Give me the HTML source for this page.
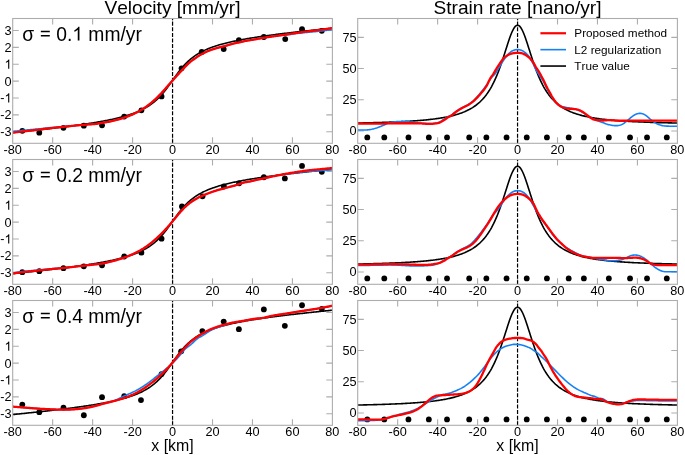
<!DOCTYPE html>
<html><head><meta charset="utf-8"><style>html,body{margin:0;padding:0;background:#fff;width:685px;height:455px;overflow:hidden} svg{will-change:transform} text{font-kerning:none}</style></head>
<body><svg width="685" height="455" viewBox="0 0 685 455" style="display:block"><rect width="685" height="455" fill="#fff"/><defs><clipPath id="cl0"><rect x="12.7" y="18.5" width="319.7" height="124.8"/></clipPath><clipPath id="cr0"><rect x="357.7" y="18.5" width="319.7" height="124.8"/></clipPath><clipPath id="cl1"><rect x="12.7" y="159.5" width="319.7" height="124.8"/></clipPath><clipPath id="cr1"><rect x="357.7" y="159.5" width="319.7" height="124.8"/></clipPath><clipPath id="cl2"><rect x="12.7" y="300.5" width="319.7" height="124.8"/></clipPath><clipPath id="cr2"><rect x="357.7" y="300.5" width="319.7" height="124.8"/></clipPath></defs><text x="172.5" y="14.2" font-size="19.15" text-anchor="middle" font-family='"Liberation Sans", sans-serif'>Velocity [mm/yr]</text><text x="517.5" y="14.2" font-size="19.15" text-anchor="middle" font-family='"Liberation Sans", sans-serif'>Strain rate [nano/yr]</text><path d="M52.67 18.5 v6.1 M52.67 143.3 v-6.1 M92.63 18.5 v6.1 M92.63 143.3 v-6.1 M132.59 18.5 v6.1 M132.59 143.3 v-6.1 M172.55 18.5 v6.1 M172.55 143.3 v-6.1 M212.51 18.5 v6.1 M212.51 143.3 v-6.1 M252.47 18.5 v6.1 M252.47 143.3 v-6.1 M292.43 18.5 v6.1 M292.43 143.3 v-6.1 M12.7 131.71 h6.1 M332.4 131.71 h-6.1 M12.7 114.84 h6.1 M332.4 114.84 h-6.1 M12.7 97.97 h6.1 M332.4 97.97 h-6.1 M12.7 81.10 h6.1 M332.4 81.10 h-6.1 M12.7 64.23 h6.1 M332.4 64.23 h-6.1 M12.7 47.36 h6.1 M332.4 47.36 h-6.1 M12.7 30.49 h6.1 M332.4 30.49 h-6.1" stroke="#adadad" stroke-width="1.1" fill="none"/><text x="12.71" y="153.8" font-size="12.7" text-anchor="middle" font-family='"Liberation Sans", sans-serif'>-80</text><text x="52.67" y="153.8" font-size="12.7" text-anchor="middle" font-family='"Liberation Sans", sans-serif'>-60</text><text x="92.63" y="153.8" font-size="12.7" text-anchor="middle" font-family='"Liberation Sans", sans-serif'>-40</text><text x="132.59" y="153.8" font-size="12.7" text-anchor="middle" font-family='"Liberation Sans", sans-serif'>-20</text><text x="172.55" y="153.8" font-size="12.7" text-anchor="middle" font-family='"Liberation Sans", sans-serif'>0</text><text x="212.51" y="153.8" font-size="12.7" text-anchor="middle" font-family='"Liberation Sans", sans-serif'>20</text><text x="252.47" y="153.8" font-size="12.7" text-anchor="middle" font-family='"Liberation Sans", sans-serif'>40</text><text x="292.43" y="153.8" font-size="12.7" text-anchor="middle" font-family='"Liberation Sans", sans-serif'>60</text><text x="332.39" y="153.8" font-size="12.7" text-anchor="middle" font-family='"Liberation Sans", sans-serif'>80</text><text x="0.31" y="136.19" font-size="12.7" font-family='"Liberation Sans", sans-serif' xml:space="preserve">-3</text><text x="0.31" y="119.32" font-size="12.7" font-family='"Liberation Sans", sans-serif' xml:space="preserve">-2</text><text x="0.31" y="102.45" font-size="12.7" font-family='"Liberation Sans", sans-serif' xml:space="preserve">-</text><path transform="translate(4.54 102.45) scale(0.006201 -0.006201)" d="M763 0H583V1147Q518 1085 412.5 1023Q307 961 223 930V1104Q374 1175 487 1276Q600 1377 647 1472H763Z"/><text x="4.54" y="85.58" font-size="12.7" font-family='"Liberation Sans", sans-serif' xml:space="preserve">0</text><path transform="translate(4.54 68.71) scale(0.006201 -0.006201)" d="M763 0H583V1147Q518 1085 412.5 1023Q307 961 223 930V1104Q374 1175 487 1276Q600 1377 647 1472H763Z"/><text x="4.54" y="51.84" font-size="12.7" font-family='"Liberation Sans", sans-serif' xml:space="preserve">2</text><text x="4.54" y="34.97" font-size="12.7" font-family='"Liberation Sans", sans-serif' xml:space="preserve">3</text><path d="M397.67 18.5 v6.1 M397.67 143.3 v-6.1 M437.63 18.5 v6.1 M437.63 143.3 v-6.1 M477.59 18.5 v6.1 M477.59 143.3 v-6.1 M517.55 18.5 v6.1 M517.55 143.3 v-6.1 M557.51 18.5 v6.1 M557.51 143.3 v-6.1 M597.47 18.5 v6.1 M597.47 143.3 v-6.1 M637.43 18.5 v6.1 M637.43 143.3 v-6.1 M357.7 130.95 h6.1 M677.4 130.95 h-6.1 M357.7 99.76 h6.1 M677.4 99.76 h-6.1 M357.7 68.57 h6.1 M677.4 68.57 h-6.1 M357.7 37.38 h6.1 M677.4 37.38 h-6.1" stroke="#adadad" stroke-width="1.1" fill="none"/><text x="357.71" y="153.8" font-size="12.7" text-anchor="middle" font-family='"Liberation Sans", sans-serif'>-80</text><text x="397.67" y="153.8" font-size="12.7" text-anchor="middle" font-family='"Liberation Sans", sans-serif'>-60</text><text x="437.63" y="153.8" font-size="12.7" text-anchor="middle" font-family='"Liberation Sans", sans-serif'>-40</text><text x="477.59" y="153.8" font-size="12.7" text-anchor="middle" font-family='"Liberation Sans", sans-serif'>-20</text><text x="517.55" y="153.8" font-size="12.7" text-anchor="middle" font-family='"Liberation Sans", sans-serif'>0</text><text x="557.51" y="153.8" font-size="12.7" text-anchor="middle" font-family='"Liberation Sans", sans-serif'>20</text><text x="597.47" y="153.8" font-size="12.7" text-anchor="middle" font-family='"Liberation Sans", sans-serif'>40</text><text x="637.43" y="153.8" font-size="12.7" text-anchor="middle" font-family='"Liberation Sans", sans-serif'>60</text><text x="677.39" y="153.8" font-size="12.7" text-anchor="middle" font-family='"Liberation Sans", sans-serif'>80</text><text x="356.59999999999997" y="135.43" font-size="12.7" text-anchor="end" font-family='"Liberation Sans", sans-serif'>0</text><text x="356.59999999999997" y="104.24" font-size="12.7" text-anchor="end" font-family='"Liberation Sans", sans-serif'>25</text><text x="356.59999999999997" y="73.05" font-size="12.7" text-anchor="end" font-family='"Liberation Sans", sans-serif'>50</text><text x="356.59999999999997" y="41.86" font-size="12.7" text-anchor="end" font-family='"Liberation Sans", sans-serif'>75</text><path d="M172.55 143.3 V18.5 M517.55 143.3 V18.5" stroke="#000" stroke-width="1.2" stroke-dasharray="4 1.6" fill="none"/><circle cx="22.30" cy="130.87" r="2.9" fill="#000" clip-path="url(#cl0)"/><circle cx="39.28" cy="132.72" r="2.9" fill="#000" clip-path="url(#cl0)"/><circle cx="63.46" cy="127.83" r="2.9" fill="#000" clip-path="url(#cl0)"/><circle cx="83.84" cy="125.64" r="2.9" fill="#000" clip-path="url(#cl0)"/><circle cx="102.02" cy="125.30" r="2.9" fill="#000" clip-path="url(#cl0)"/><circle cx="124.20" cy="116.53" r="2.9" fill="#000" clip-path="url(#cl0)"/><circle cx="141.38" cy="110.29" r="2.9" fill="#000" clip-path="url(#cl0)"/><circle cx="161.56" cy="96.45" r="2.9" fill="#000" clip-path="url(#cl0)"/><circle cx="181.54" cy="68.28" r="2.9" fill="#000" clip-path="url(#cl0)"/><circle cx="201.72" cy="51.91" r="2.9" fill="#000" clip-path="url(#cl0)"/><circle cx="223.70" cy="49.05" r="2.9" fill="#000" clip-path="url(#cl0)"/><circle cx="238.88" cy="40.11" r="2.9" fill="#000" clip-path="url(#cl0)"/><circle cx="263.86" cy="36.98" r="2.9" fill="#000" clip-path="url(#cl0)"/><circle cx="285.24" cy="39.09" r="2.9" fill="#000" clip-path="url(#cl0)"/><circle cx="302.02" cy="29.14" r="2.9" fill="#000" clip-path="url(#cl0)"/><circle cx="321.80" cy="30.83" r="2.9" fill="#000" clip-path="url(#cl0)"/><circle cx="367.30" cy="137.39" r="2.9" fill="#000"/><circle cx="384.28" cy="137.39" r="2.9" fill="#000"/><circle cx="408.46" cy="137.39" r="2.9" fill="#000"/><circle cx="428.84" cy="137.39" r="2.9" fill="#000"/><circle cx="447.02" cy="137.39" r="2.9" fill="#000"/><circle cx="469.20" cy="137.39" r="2.9" fill="#000"/><circle cx="486.38" cy="137.39" r="2.9" fill="#000"/><circle cx="506.56" cy="137.39" r="2.9" fill="#000"/><circle cx="526.74" cy="137.39" r="2.9" fill="#000"/><circle cx="546.92" cy="137.39" r="2.9" fill="#000"/><circle cx="568.70" cy="137.39" r="2.9" fill="#000"/><circle cx="583.88" cy="137.39" r="2.9" fill="#000"/><circle cx="608.86" cy="137.39" r="2.9" fill="#000"/><circle cx="630.04" cy="137.39" r="2.9" fill="#000"/><circle cx="647.02" cy="137.39" r="2.9" fill="#000"/><circle cx="666.80" cy="137.39" r="2.9" fill="#000"/><polyline clip-path="url(#cl0)" points="12.71,132.55 13.71,132.45 14.71,132.35 15.71,132.25 16.71,132.15 17.71,132.05 18.70,131.95 19.70,131.85 20.70,131.74 21.70,131.64 22.70,131.54 23.70,131.44 24.70,131.33 25.70,131.23 26.70,131.13 27.70,131.02 28.69,130.92 29.69,130.81 30.69,130.71 31.69,130.60 32.69,130.50 33.69,130.39 34.69,130.28 35.69,130.18 36.69,130.07 37.69,129.96 38.68,129.85 39.68,129.74 40.68,129.63 41.68,129.52 42.68,129.41 43.68,129.30 44.68,129.19 45.68,129.08 46.68,128.97 47.68,128.85 48.67,128.74 49.67,128.63 50.67,128.51 51.67,128.40 52.67,128.28 53.67,128.17 54.67,128.05 55.67,127.93 56.67,127.81 57.67,127.69 58.66,127.57 59.66,127.45 60.66,127.33 61.66,127.21 62.66,127.09 63.66,126.96 64.66,126.84 65.66,126.72 66.66,126.59 67.66,126.46 68.65,126.34 69.65,126.21 70.65,126.08 71.65,125.95 72.65,125.81 73.65,125.68 74.65,125.55 75.65,125.41 76.65,125.28 77.65,125.14 78.64,125.00 79.64,124.86 80.64,124.72 81.64,124.58 82.64,124.44 83.64,124.29 84.64,124.15 85.64,124.00 86.64,123.85 87.64,123.70 88.63,123.54 89.63,123.39 90.63,123.23 91.63,123.08 92.63,122.92 93.63,122.75 94.63,122.59 95.63,122.43 96.63,122.26 97.63,122.09 98.62,121.91 99.62,121.74 100.62,121.56 101.62,121.38 102.62,121.20 103.62,121.01 104.62,120.83 105.62,120.63 106.62,120.44 107.62,120.24 108.61,120.04 109.61,119.84 110.61,119.63 111.61,119.42 112.61,119.20 113.61,118.98 114.61,118.75 115.61,118.52 116.61,118.29 117.61,118.05 118.60,117.81 119.60,117.56 120.60,117.30 121.60,117.04 122.60,116.77 123.60,116.50 124.60,116.22 125.60,115.93 126.60,115.63 127.60,115.33 128.59,115.01 129.59,114.69 130.59,114.36 131.59,114.02 132.59,113.67 133.59,113.30 134.59,112.93 135.59,112.54 136.59,112.14 137.59,111.73 138.58,111.30 139.58,110.86 140.58,110.40 141.58,109.92 142.58,109.42 143.58,108.91 144.58,108.37 145.58,107.81 146.58,107.23 147.58,106.63 148.57,106.00 149.57,105.34 150.57,104.65 151.57,103.94 152.57,103.19 153.57,102.40 154.57,101.59 155.57,100.73 156.57,99.84 157.56,98.91 158.56,97.94 159.56,96.92 160.56,95.87 161.56,94.77 162.56,93.63 163.56,92.45 164.56,91.22 165.56,89.96 166.56,88.67 167.56,87.34 168.55,85.98 169.55,84.60 170.55,83.20 171.55,81.79 172.55,80.37 173.55,78.95 174.55,77.54 175.55,76.14 176.55,74.76 177.55,73.41 178.54,72.08 179.54,70.78 180.54,69.52 181.54,68.30 182.54,67.12 183.54,65.98 184.54,64.88 185.54,63.82 186.54,62.81 187.54,61.84 188.53,60.90 189.53,60.01 190.53,59.16 191.53,58.34 192.53,57.56 193.53,56.81 194.53,56.09 195.53,55.40 196.53,54.75 197.53,54.12 198.52,53.51 199.52,52.93 200.52,52.37 201.52,51.84 202.52,51.32 203.52,50.83 204.52,50.35 205.52,49.89 206.52,49.44 207.52,49.02 208.51,48.60 209.51,48.20 210.51,47.82 211.51,47.44 212.51,47.08 213.51,46.73 214.51,46.39 215.51,46.05 216.51,45.73 217.50,45.42 218.50,45.11 219.50,44.82 220.50,44.53 221.50,44.25 222.50,43.97 223.50,43.70 224.50,43.44 225.50,43.19 226.50,42.94 227.50,42.69 228.49,42.45 229.49,42.22 230.49,41.99 231.49,41.77 232.49,41.55 233.49,41.33 234.49,41.12 235.49,40.91 236.49,40.70 237.49,40.50 238.48,40.30 239.48,40.11 240.48,39.92 241.48,39.73 242.48,39.54 243.48,39.36 244.48,39.18 245.48,39.01 246.48,38.83 247.48,38.66 248.47,38.49 249.47,38.32 250.47,38.15 251.47,37.99 252.47,37.83 253.47,37.67 254.47,37.51 255.47,37.35 256.47,37.20 257.47,37.05 258.46,36.90 259.46,36.75 260.46,36.60 261.46,36.45 262.46,36.31 263.46,36.16 264.46,36.02 265.46,35.88 266.46,35.74 267.46,35.60 268.45,35.47 269.45,35.33 270.45,35.20 271.45,35.06 272.45,34.93 273.45,34.80 274.45,34.67 275.45,34.54 276.45,34.41 277.44,34.28 278.44,34.16 279.44,34.03 280.44,33.90 281.44,33.78 282.44,33.66 283.44,33.53 284.44,33.41 285.44,33.29 286.44,33.17 287.44,33.05 288.43,32.93 289.43,32.81 290.43,32.70 291.43,32.58 292.43,32.46 293.43,32.35 294.43,32.23 295.43,32.12 296.43,32.00 297.43,31.89 298.42,31.78 299.42,31.66 300.42,31.55 301.42,31.44 302.42,31.33 303.42,31.22 304.42,31.11 305.42,31.00 306.42,30.89 307.42,30.78 308.41,30.68 309.41,30.57 310.41,30.46 311.41,30.35 312.41,30.25 313.41,30.14 314.41,30.04 315.41,29.93 316.41,29.83 317.40,29.72 318.40,29.62 319.40,29.51 320.40,29.41 321.40,29.31 322.40,29.21 323.40,29.10 324.40,29.00 325.40,28.90 326.40,28.80 327.39,28.70 328.39,28.60 329.39,28.50 330.39,28.39 331.39,28.29 332.39,28.19" fill="none" stroke="#000" stroke-width="1.6" stroke-linejoin="round"/><polyline clip-path="url(#cl0)" points="12.71,131.37 13.71,131.27 14.71,131.17 15.71,131.07 16.71,130.96 17.71,130.86 18.70,130.76 19.70,130.66 20.70,130.57 21.70,130.47 22.70,130.37 23.70,130.27 24.70,130.18 25.70,130.09 26.70,129.99 27.70,129.90 28.69,129.81 29.69,129.72 30.69,129.63 31.69,129.54 32.69,129.45 33.69,129.36 34.69,129.27 35.69,129.17 36.69,129.08 37.69,128.98 38.68,128.88 39.68,128.78 40.68,128.68 41.68,128.57 42.68,128.47 43.68,128.36 44.68,128.25 45.68,128.15 46.68,128.04 47.68,127.94 48.67,127.84 49.67,127.74 50.67,127.64 51.67,127.54 52.67,127.45 53.67,127.36 54.67,127.27 55.67,127.19 56.67,127.11 57.67,127.03 58.66,126.95 59.66,126.87 60.66,126.79 61.66,126.71 62.66,126.63 63.66,126.55 64.66,126.48 65.66,126.40 66.66,126.32 67.66,126.23 68.65,126.15 69.65,126.07 70.65,125.99 71.65,125.91 72.65,125.83 73.65,125.73 74.65,125.63 75.65,125.53 76.65,125.44 77.65,125.35 78.64,125.25 79.64,125.17 80.64,125.08 81.64,125.00 82.64,124.92 83.64,124.84 84.64,124.76 85.64,124.69 86.64,124.61 87.64,124.54 88.63,124.47 89.63,124.40 90.63,124.33 91.63,124.27 92.63,124.20 93.63,124.12 94.63,124.02 95.63,123.91 96.63,123.76 97.63,123.60 98.62,123.43 99.62,123.25 100.62,123.07 101.62,122.89 102.62,122.72 103.62,122.56 104.62,122.40 105.62,122.25 106.62,122.09 107.62,121.93 108.61,121.76 109.61,121.57 110.61,121.38 111.61,121.17 112.61,120.95 113.61,120.72 114.61,120.48 115.61,120.22 116.61,119.96 117.61,119.69 118.60,119.41 119.60,119.12 120.60,118.82 121.60,118.51 122.60,118.19 123.60,117.87 124.60,117.53 125.60,117.18 126.60,116.82 127.60,116.45 128.59,116.07 129.59,115.68 130.59,115.27 131.59,114.85 132.59,114.41 133.59,113.96 134.59,113.49 135.59,113.00 136.59,112.50 137.59,111.98 138.58,111.44 139.58,110.89 140.58,110.31 141.58,109.72 142.58,109.10 143.58,108.47 144.58,107.81 145.58,107.13 146.58,106.43 147.58,105.70 148.57,104.95 149.57,104.18 150.57,103.39 151.57,102.57 152.57,101.73 153.57,100.86 154.57,99.96 155.57,99.04 156.57,98.10 157.56,97.13 158.56,96.14 159.56,95.11 160.56,94.07 161.56,92.99 162.56,91.89 163.56,90.77 164.56,89.64 165.56,88.50 166.56,87.35 167.56,86.19 168.55,85.04 169.55,83.90 170.55,82.77 171.55,81.64 172.55,80.53 173.55,79.41 174.55,78.29 175.55,77.17 176.55,76.06 177.55,74.96 178.54,73.87 179.54,72.80 180.54,71.73 181.54,70.66 182.54,69.57 183.54,68.47 184.54,67.39 185.54,66.33 186.54,65.32 187.54,64.35 188.53,63.43 189.53,62.55 190.53,61.71 191.53,60.92 192.53,60.18 193.53,59.47 194.53,58.77 195.53,58.07 196.53,57.36 197.53,56.66 198.52,55.98 199.52,55.35 200.52,54.75 201.52,54.21 202.52,53.69 203.52,53.17 204.52,52.66 205.52,52.16 206.52,51.68 207.52,51.23 208.51,50.82 209.51,50.43 210.51,50.07 211.51,49.73 212.51,49.40 213.51,49.09 214.51,48.79 215.51,48.49 216.51,48.20 217.50,47.91 218.50,47.62 219.50,47.34 220.50,47.06 221.50,46.81 222.50,46.57 223.50,46.34 224.50,46.11 225.50,45.85 226.50,45.58 227.50,45.29 228.49,45.00 229.49,44.70 230.49,44.40 231.49,44.11 232.49,43.83 233.49,43.57 234.49,43.33 235.49,43.12 236.49,42.93 237.49,42.73 238.48,42.53 239.48,42.30 240.48,42.07 241.48,41.83 242.48,41.60 243.48,41.36 244.48,41.14 245.48,40.94 246.48,40.75 247.48,40.57 248.47,40.41 249.47,40.27 250.47,40.12 251.47,39.97 252.47,39.81 253.47,39.64 254.47,39.47 255.47,39.28 256.47,39.10 257.47,38.91 258.46,38.73 259.46,38.54 260.46,38.37 261.46,38.20 262.46,38.03 263.46,37.87 264.46,37.70 265.46,37.54 266.46,37.38 267.46,37.22 268.45,37.06 269.45,36.91 270.45,36.76 271.45,36.61 272.45,36.46 273.45,36.34 274.45,36.22 275.45,36.10 276.45,35.98 277.44,35.86 278.44,35.75 279.44,35.63 280.44,35.52 281.44,35.40 282.44,35.29 283.44,35.18 284.44,35.07 285.44,34.97 286.44,34.85 287.44,34.73 288.43,34.60 289.43,34.47 290.43,34.34 291.43,34.21 292.43,34.07 293.43,33.94 294.43,33.81 295.43,33.68 296.43,33.55 297.43,33.43 298.42,33.31 299.42,33.19 300.42,33.08 301.42,32.97 302.42,32.86 303.42,32.76 304.42,32.66 305.42,32.56 306.42,32.46 307.42,32.36 308.41,32.27 309.41,32.17 310.41,32.07 311.41,31.98 312.41,31.88 313.41,31.78 314.41,31.68 315.41,31.58 316.41,31.48 317.40,31.38 318.40,31.28 319.40,31.17 320.40,31.06 321.40,30.95 322.40,30.84 323.40,30.73 324.40,30.61 325.40,30.49 326.40,30.37 327.39,30.25 328.39,30.13 329.39,30.00 330.39,29.88 331.39,29.75 332.39,29.62" fill="none" stroke="#1480f5" stroke-width="1.6" stroke-linejoin="round"/><polyline clip-path="url(#cl0)" points="12.71,132.72 13.71,132.60 14.71,132.47 15.71,132.35 16.71,132.22 17.71,132.10 18.70,131.98 19.70,131.86 20.70,131.73 21.70,131.61 22.70,131.49 23.70,131.38 24.70,131.26 25.70,131.14 26.70,131.03 27.70,130.91 28.69,130.80 29.69,130.69 30.69,130.58 31.69,130.46 32.69,130.35 33.69,130.24 34.69,130.12 35.69,130.00 36.69,129.89 37.69,129.77 38.68,129.64 39.68,129.52 40.68,129.40 41.68,129.27 42.68,129.14 43.68,129.01 44.68,128.88 45.68,128.76 46.68,128.63 47.68,128.50 48.67,128.38 49.67,128.25 50.67,128.13 51.67,128.02 52.67,127.90 53.67,127.79 54.67,127.68 55.67,127.57 56.67,127.47 57.67,127.36 58.66,127.26 59.66,127.16 60.66,127.06 61.66,126.96 62.66,126.86 63.66,126.76 64.66,126.66 65.66,126.55 66.66,126.45 67.66,126.35 68.65,126.24 69.65,126.14 70.65,126.04 71.65,125.93 72.65,125.83 73.65,125.73 74.65,125.63 75.65,125.53 76.65,125.44 77.65,125.35 78.64,125.25 79.64,125.17 80.64,125.08 81.64,125.00 82.64,124.92 83.64,124.84 84.64,124.76 85.64,124.69 86.64,124.61 87.64,124.54 88.63,124.47 89.63,124.40 90.63,124.33 91.63,124.27 92.63,124.20 93.63,124.12 94.63,124.02 95.63,123.91 96.63,123.76 97.63,123.60 98.62,123.43 99.62,123.25 100.62,123.07 101.62,122.89 102.62,122.72 103.62,122.56 104.62,122.40 105.62,122.25 106.62,122.09 107.62,121.93 108.61,121.76 109.61,121.57 110.61,121.38 111.61,121.17 112.61,120.95 113.61,120.72 114.61,120.48 115.61,120.22 116.61,119.96 117.61,119.69 118.60,119.41 119.60,119.12 120.60,118.82 121.60,118.51 122.60,118.19 123.60,117.87 124.60,117.53 125.60,117.18 126.60,116.82 127.60,116.45 128.59,116.07 129.59,115.68 130.59,115.27 131.59,114.85 132.59,114.41 133.59,113.96 134.59,113.49 135.59,113.00 136.59,112.50 137.59,111.98 138.58,111.44 139.58,110.89 140.58,110.31 141.58,109.72 142.58,109.10 143.58,108.47 144.58,107.81 145.58,107.13 146.58,106.43 147.58,105.70 148.57,104.95 149.57,104.18 150.57,103.39 151.57,102.57 152.57,101.73 153.57,100.86 154.57,99.96 155.57,99.04 156.57,98.10 157.56,97.13 158.56,96.14 159.56,95.11 160.56,94.07 161.56,92.99 162.56,91.89 163.56,90.77 164.56,89.64 165.56,88.50 166.56,87.35 167.56,86.19 168.55,85.04 169.55,83.90 170.55,82.77 171.55,81.64 172.55,80.53 173.55,79.41 174.55,78.29 175.55,77.17 176.55,76.06 177.55,74.96 178.54,73.87 179.54,72.80 180.54,71.73 181.54,70.66 182.54,69.57 183.54,68.47 184.54,67.39 185.54,66.33 186.54,65.32 187.54,64.35 188.53,63.43 189.53,62.55 190.53,61.71 191.53,60.92 192.53,60.18 193.53,59.47 194.53,58.77 195.53,58.07 196.53,57.36 197.53,56.66 198.52,55.98 199.52,55.35 200.52,54.75 201.52,54.21 202.52,53.69 203.52,53.17 204.52,52.66 205.52,52.16 206.52,51.68 207.52,51.23 208.51,50.82 209.51,50.43 210.51,50.07 211.51,49.73 212.51,49.40 213.51,49.09 214.51,48.79 215.51,48.49 216.51,48.20 217.50,47.91 218.50,47.62 219.50,47.34 220.50,47.06 221.50,46.81 222.50,46.57 223.50,46.34 224.50,46.11 225.50,45.85 226.50,45.58 227.50,45.29 228.49,45.00 229.49,44.70 230.49,44.40 231.49,44.11 232.49,43.83 233.49,43.57 234.49,43.33 235.49,43.12 236.49,42.93 237.49,42.73 238.48,42.53 239.48,42.30 240.48,42.07 241.48,41.83 242.48,41.60 243.48,41.36 244.48,41.14 245.48,40.94 246.48,40.75 247.48,40.57 248.47,40.41 249.47,40.27 250.47,40.12 251.47,39.97 252.47,39.81 253.47,39.64 254.47,39.47 255.47,39.28 256.47,39.10 257.47,38.91 258.46,38.73 259.46,38.54 260.46,38.37 261.46,38.20 262.46,38.03 263.46,37.87 264.46,37.70 265.46,37.54 266.46,37.38 267.46,37.22 268.45,37.06 269.45,36.91 270.45,36.76 271.45,36.61 272.45,36.46 273.45,36.32 274.45,36.17 275.45,36.03 276.45,35.88 277.44,35.74 278.44,35.59 279.44,35.45 280.44,35.31 281.44,35.17 282.44,35.04 283.44,34.90 284.44,34.77 285.44,34.64 286.44,34.50 287.44,34.35 288.43,34.20 289.43,34.04 290.43,33.89 291.43,33.73 292.43,33.57 293.43,33.41 294.43,33.25 295.43,33.10 296.43,32.94 297.43,32.79 298.42,32.65 299.42,32.51 300.42,32.37 301.42,32.24 302.42,32.11 303.42,31.98 304.42,31.85 305.42,31.72 306.42,31.60 307.42,31.48 308.41,31.36 309.41,31.23 310.41,31.11 311.41,30.99 312.41,30.87 313.41,30.74 314.41,30.62 315.41,30.50 316.41,30.37 317.40,30.24 318.40,30.11 319.40,29.98 320.40,29.85 321.40,29.71 322.40,29.58 323.40,29.44 324.40,29.30 325.40,29.15 326.40,29.01 327.39,28.86 328.39,28.71 329.39,28.56 330.39,28.41 331.39,28.26 332.39,28.10" fill="none" stroke="#ff0000" stroke-width="2.3" stroke-linejoin="round"/><polyline clip-path="url(#cr0)" points="357.71,123.03 358.71,123.01 359.71,122.99 360.71,122.97 361.71,122.95 362.70,122.93 363.70,122.91 364.70,122.88 365.70,122.86 366.70,122.84 367.70,122.82 368.70,122.79 369.70,122.77 370.70,122.74 371.70,122.72 372.69,122.69 373.69,122.66 374.69,122.64 375.69,122.61 376.69,122.58 377.69,122.55 378.69,122.52 379.69,122.49 380.69,122.46 381.69,122.43 382.68,122.40 383.68,122.36 384.68,122.33 385.68,122.30 386.68,122.26 387.68,122.23 388.68,122.19 389.68,122.15 390.68,122.11 391.68,122.07 392.67,122.03 393.67,121.99 394.67,121.95 395.67,121.91 396.67,121.86 397.67,121.82 398.67,121.77 399.67,121.73 400.67,121.68 401.67,121.63 402.66,121.58 403.66,121.52 404.66,121.47 405.66,121.42 406.66,121.36 407.66,121.30 408.66,121.24 409.66,121.18 410.66,121.12 411.66,121.06 412.65,120.99 413.65,120.92 414.65,120.85 415.65,120.78 416.65,120.71 417.65,120.63 418.65,120.55 419.65,120.47 420.65,120.39 421.65,120.30 422.64,120.22 423.64,120.13 424.64,120.03 425.64,119.94 426.64,119.84 427.64,119.74 428.64,119.63 429.64,119.52 430.64,119.41 431.64,119.30 432.63,119.18 433.63,119.05 434.63,118.92 435.63,118.79 436.63,118.66 437.63,118.52 438.63,118.37 439.63,118.22 440.63,118.06 441.63,117.90 442.62,117.73 443.62,117.56 444.62,117.37 445.62,117.19 446.62,116.99 447.62,116.79 448.62,116.58 449.62,116.36 450.62,116.13 451.62,115.89 452.61,115.65 453.61,115.39 454.61,115.12 455.61,114.85 456.61,114.55 457.61,114.25 458.61,113.93 459.61,113.60 460.61,113.26 461.61,112.90 462.60,112.52 463.60,112.12 464.60,111.71 465.60,111.27 466.60,110.82 467.60,110.34 468.60,109.84 469.60,109.31 470.60,108.75 471.60,108.17 472.59,107.56 473.59,106.91 474.59,106.23 475.59,105.52 476.59,104.76 477.59,103.97 478.59,103.12 479.59,102.24 480.59,101.30 481.59,100.30 482.58,99.25 483.58,98.14 484.58,96.96 485.58,95.72 486.58,94.40 487.58,93.00 488.58,91.52 489.58,89.95 490.58,88.29 491.58,86.53 492.57,84.67 493.57,82.71 494.57,80.63 495.57,78.44 496.57,76.13 497.57,73.71 498.57,71.16 499.57,68.50 500.57,65.73 501.57,62.85 502.56,59.88 503.56,56.83 504.56,53.72 505.56,50.58 506.56,47.43 507.56,44.31 508.56,41.26 509.56,38.33 510.56,35.57 511.56,33.03 512.55,30.76 513.55,28.82 514.55,27.26 515.55,26.11 516.55,25.41 517.55,25.17 518.55,25.41 519.55,26.11 520.55,27.26 521.55,28.82 522.54,30.76 523.54,33.03 524.54,35.57 525.54,38.33 526.54,41.26 527.54,44.31 528.54,47.43 529.54,50.58 530.54,53.72 531.54,56.83 532.53,59.88 533.53,62.85 534.53,65.73 535.53,68.50 536.53,71.16 537.53,73.71 538.53,76.13 539.53,78.44 540.53,80.63 541.53,82.71 542.52,84.67 543.52,86.53 544.52,88.29 545.52,89.95 546.52,91.52 547.52,93.00 548.52,94.40 549.52,95.72 550.52,96.96 551.52,98.14 552.51,99.25 553.51,100.30 554.51,101.30 555.51,102.24 556.51,103.12 557.51,103.97 558.51,104.76 559.51,105.52 560.51,106.23 561.51,106.91 562.50,107.56 563.50,108.17 564.50,108.75 565.50,109.31 566.50,109.84 567.50,110.34 568.50,110.82 569.50,111.27 570.50,111.71 571.50,112.12 572.50,112.52 573.49,112.90 574.49,113.26 575.49,113.60 576.49,113.93 577.49,114.25 578.49,114.55 579.49,114.85 580.49,115.12 581.49,115.39 582.48,115.65 583.48,115.89 584.48,116.13 585.48,116.36 586.48,116.58 587.48,116.79 588.48,116.99 589.48,117.19 590.48,117.37 591.48,117.56 592.47,117.73 593.47,117.90 594.47,118.06 595.47,118.22 596.47,118.37 597.47,118.52 598.47,118.66 599.47,118.79 600.47,118.92 601.47,119.05 602.46,119.18 603.46,119.30 604.46,119.41 605.46,119.52 606.46,119.63 607.46,119.74 608.46,119.84 609.46,119.94 610.46,120.03 611.46,120.13 612.45,120.22 613.45,120.30 614.45,120.39 615.45,120.47 616.45,120.55 617.45,120.63 618.45,120.71 619.45,120.78 620.45,120.85 621.45,120.92 622.44,120.99 623.44,121.06 624.44,121.12 625.44,121.18 626.44,121.24 627.44,121.30 628.44,121.36 629.44,121.42 630.44,121.47 631.44,121.52 632.43,121.58 633.43,121.63 634.43,121.68 635.43,121.73 636.43,121.77 637.43,121.82 638.43,121.86 639.43,121.91 640.43,121.95 641.43,121.99 642.42,122.03 643.42,122.07 644.42,122.11 645.42,122.15 646.42,122.19 647.42,122.23 648.42,122.26 649.42,122.30 650.42,122.33 651.42,122.36 652.41,122.40 653.41,122.43 654.41,122.46 655.41,122.49 656.41,122.52 657.41,122.55 658.41,122.58 659.41,122.61 660.41,122.64 661.41,122.66 662.40,122.69 663.40,122.72 664.40,122.74 665.40,122.77 666.40,122.79 667.40,122.82 668.40,122.84 669.40,122.86 670.40,122.88 671.40,122.91 672.39,122.93 673.39,122.95 674.39,122.97 675.39,122.99 676.39,123.01 677.39,123.03" fill="none" stroke="#000" stroke-width="1.6" stroke-linejoin="round"/><polyline clip-path="url(#cr0)" points="357.71,129.91 358.71,129.95 359.71,129.99 360.71,130.02 361.71,130.05 362.70,130.06 363.70,130.06 364.70,130.05 365.70,130.01 366.70,129.96 367.70,129.88 368.70,129.78 369.70,129.65 370.70,129.50 371.70,129.31 372.69,129.09 373.69,128.85 374.69,128.58 375.69,128.28 376.69,127.96 377.69,127.61 378.69,127.23 379.69,126.84 380.69,126.44 381.69,126.02 382.68,125.58 383.68,125.15 384.68,124.71 385.68,124.27 386.68,123.85 387.68,123.46 388.68,123.09 389.68,122.77 390.68,122.50 391.68,122.27 392.67,122.09 393.67,121.95 394.67,121.83 395.67,121.74 396.67,121.66 397.67,121.59 398.67,121.52 399.67,121.47 400.67,121.44 401.67,121.42 402.66,121.42 403.66,121.44 404.66,121.49 405.66,121.55 406.66,121.63 407.66,121.72 408.66,121.82 409.66,121.93 410.66,122.04 411.66,122.16 412.65,122.28 413.65,122.40 414.65,122.53 415.65,122.65 416.65,122.76 417.65,122.88 418.65,122.99 419.65,123.09 420.65,123.18 421.65,123.27 422.64,123.35 423.64,123.42 424.64,123.48 425.64,123.53 426.64,123.57 427.64,123.59 428.64,123.61 429.64,123.61 430.64,123.59 431.64,123.55 432.63,123.48 433.63,123.39 434.63,123.27 435.63,123.12 436.63,122.93 437.63,122.69 438.63,122.38 439.63,121.99 440.63,121.50 441.63,120.89 442.62,120.22 443.62,119.52 444.62,118.82 445.62,118.15 446.62,117.55 447.62,117.03 448.62,116.58 449.62,116.13 450.62,115.61 451.62,114.98 452.61,114.25 453.61,113.47 454.61,112.66 455.61,111.87 456.61,111.12 457.61,110.42 458.61,109.77 459.61,109.16 460.61,108.58 461.61,108.03 462.60,107.49 463.60,106.97 464.60,106.45 465.60,105.93 466.60,105.40 467.60,104.85 468.60,104.26 469.60,103.64 470.60,102.96 471.60,102.21 472.59,101.39 473.59,100.50 474.59,99.54 475.59,98.53 476.59,97.46 477.59,96.35 478.59,95.21 479.59,94.02 480.59,92.81 481.59,91.56 482.58,90.29 483.58,88.98 484.58,87.65 485.58,86.27 486.58,84.85 487.58,83.38 488.58,81.86 489.58,80.34 490.58,78.89 491.58,77.57 492.57,76.44 493.57,75.52 494.57,74.47 495.57,73.20 496.57,71.73 497.57,70.13 498.57,68.44 499.57,66.71 500.57,64.99 501.57,63.32 502.56,61.73 503.56,60.22 504.56,58.79 505.56,57.44 506.56,56.17 507.56,54.98 508.56,53.88 509.56,52.87 510.56,52.01 511.56,51.33 512.55,50.80 513.55,50.37 514.55,50.04 515.55,49.80 516.55,49.65 517.55,49.60 518.55,49.65 519.55,49.79 520.55,50.04 521.55,50.38 522.54,50.82 523.54,51.37 524.54,52.06 525.54,52.87 526.54,53.79 527.54,54.84 528.54,56.06 529.54,57.53 530.54,59.15 531.54,60.86 532.53,62.69 533.53,64.68 534.53,66.85 535.53,69.03 536.53,70.94 537.53,72.60 538.53,74.07 539.53,75.48 540.53,76.96 541.53,78.45 542.52,79.96 543.52,81.63 544.52,83.57 545.52,85.79 546.52,87.95 547.52,89.84 548.52,91.58 549.52,93.27 550.52,95.03 551.52,96.69 552.51,98.03 553.51,99.21 554.51,100.40 555.51,101.71 556.51,102.98 557.51,104.01 558.51,104.81 559.51,105.42 560.51,105.89 561.51,106.25 562.50,106.56 563.50,106.84 564.50,107.08 565.50,107.30 566.50,107.50 567.50,107.68 568.50,107.85 569.50,108.01 570.50,108.18 571.50,108.34 572.50,108.52 573.49,108.72 574.49,108.93 575.49,109.18 576.49,109.47 577.49,109.81 578.49,110.20 579.49,110.65 580.49,111.15 581.49,111.69 582.48,112.28 583.48,112.91 584.48,113.56 585.48,114.22 586.48,114.87 587.48,115.51 588.48,116.10 589.48,116.66 590.48,117.25 591.48,117.88 592.47,118.49 593.47,119.02 594.47,119.42 595.47,119.80 596.47,120.23 597.47,120.69 598.47,121.13 599.47,121.53 600.47,121.86 601.47,122.18 602.46,122.49 603.46,122.84 604.46,123.24 605.46,123.64 606.46,124.03 607.46,124.36 608.46,124.62 609.46,124.84 610.46,125.04 611.46,125.22 612.45,125.38 613.45,125.51 614.45,125.60 615.45,125.65 616.45,125.65 617.45,125.59 618.45,125.47 619.45,125.28 620.45,125.00 621.45,124.64 622.44,124.19 623.44,123.63 624.44,122.97 625.44,122.23 626.44,121.42 627.44,120.58 628.44,119.70 629.44,118.83 630.44,117.96 631.44,117.12 632.43,116.33 633.43,115.60 634.43,114.96 635.43,114.42 636.43,113.99 637.43,113.67 638.43,113.46 639.43,113.37 640.43,113.38 641.43,113.50 642.42,113.75 643.42,114.10 644.42,114.58 645.42,115.18 646.42,115.90 647.42,116.70 648.42,117.57 649.42,118.45 650.42,119.32 651.42,120.15 652.41,120.93 653.41,121.65 654.41,122.31 655.41,122.92 656.41,123.47 657.41,123.96 658.41,124.39 659.41,124.77 660.41,125.10 661.41,125.37 662.40,125.60 663.40,125.78 664.40,125.92 665.40,126.02 666.40,126.09 667.40,126.14 668.40,126.17 669.40,126.19 670.40,126.20 671.40,126.21 672.39,126.21 673.39,126.21 674.39,126.20 675.39,126.19 676.39,126.18 677.39,126.17" fill="none" stroke="#1480f5" stroke-width="1.6" stroke-linejoin="round"/><polyline clip-path="url(#cr0)" points="357.71,123.67 358.71,123.67 359.71,123.67 360.71,123.67 361.71,123.67 362.70,123.67 363.70,123.67 364.70,123.67 365.70,123.67 366.70,123.67 367.70,123.67 368.70,123.67 369.70,123.67 370.70,123.66 371.70,123.66 372.69,123.65 373.69,123.65 374.69,123.64 375.69,123.64 376.69,123.63 377.69,123.62 378.69,123.61 379.69,123.60 380.69,123.58 381.69,123.57 382.68,123.55 383.68,123.53 384.68,123.51 385.68,123.49 386.68,123.47 387.68,123.45 388.68,123.42 389.68,123.40 390.68,123.38 391.68,123.35 392.67,123.33 393.67,123.31 394.67,123.30 395.67,123.28 396.67,123.27 397.67,123.26 398.67,123.25 399.67,123.24 400.67,123.24 401.67,123.24 402.66,123.24 403.66,123.24 404.66,123.24 405.66,123.25 406.66,123.25 407.66,123.25 408.66,123.26 409.66,123.26 410.66,123.26 411.66,123.27 412.65,123.27 413.65,123.28 414.65,123.29 415.65,123.30 416.65,123.31 417.65,123.33 418.65,123.36 419.65,123.39 420.65,123.43 421.65,123.47 422.64,123.53 423.64,123.59 424.64,123.66 425.64,123.74 426.64,123.80 427.64,123.86 428.64,123.90 429.64,123.92 430.64,123.91 431.64,123.87 432.63,123.80 433.63,123.70 434.63,123.58 435.63,123.44 436.63,123.28 437.63,123.10 438.63,122.86 439.63,122.54 440.63,122.10 441.63,121.56 442.62,120.95 443.62,120.32 444.62,119.70 445.62,119.01 446.62,118.25 447.62,117.57 448.62,117.00 449.62,116.48 450.62,115.93 451.62,115.28 452.61,114.56 453.61,113.78 454.61,112.98 455.61,112.20 456.61,111.45 457.61,110.75 458.61,110.09 459.61,109.47 460.61,108.88 461.61,108.33 462.60,107.81 463.60,107.30 464.60,106.81 465.60,106.31 466.60,105.79 467.60,105.26 468.60,104.69 469.60,104.08 470.60,103.41 471.60,102.69 472.59,101.89 473.59,101.04 474.59,100.12 475.59,99.15 476.59,98.14 477.59,97.09 478.59,96.01 479.59,94.90 480.59,93.77 481.59,92.61 482.58,91.43 483.58,90.22 484.58,88.92 485.58,87.47 486.58,85.84 487.58,83.96 488.58,81.85 489.58,79.73 490.58,77.88 491.58,76.43 492.57,75.09 493.57,73.57 494.57,71.87 495.57,70.14 496.57,68.49 497.57,66.93 498.57,65.42 499.57,63.95 500.57,62.49 501.57,61.01 502.56,59.57 503.56,58.26 504.56,57.19 505.56,56.45 506.56,55.90 507.56,55.32 508.56,54.75 509.56,54.23 510.56,53.84 511.56,53.58 512.55,53.36 513.55,53.17 514.55,53.00 515.55,52.88 516.55,52.79 517.55,52.76 518.55,52.78 519.55,52.85 520.55,53.00 521.55,53.22 522.54,53.52 523.54,53.90 524.54,54.37 525.54,54.93 526.54,55.58 527.54,56.31 528.54,57.12 529.54,58.01 530.54,59.00 531.54,60.12 532.53,61.42 533.53,62.91 534.53,64.63 535.53,66.46 536.53,68.19 537.53,69.67 538.53,71.12 539.53,72.76 540.53,74.60 541.53,76.44 542.52,78.25 543.52,80.13 544.52,82.18 545.52,84.45 546.52,86.61 547.52,88.48 548.52,90.21 549.52,91.95 550.52,93.85 551.52,95.77 552.51,97.48 553.51,99.01 554.51,100.43 555.51,101.73 556.51,102.90 557.51,103.93 558.51,104.81 559.51,105.57 560.51,106.22 561.51,106.77 562.50,107.24 563.50,107.63 564.50,107.95 565.50,108.22 566.50,108.42 567.50,108.58 568.50,108.69 569.50,108.77 570.50,108.83 571.50,108.88 572.50,108.93 573.49,108.99 574.49,109.07 575.49,109.18 576.49,109.34 577.49,109.57 578.49,109.86 579.49,110.22 580.49,110.66 581.49,111.17 582.48,111.76 583.48,112.43 584.48,113.16 585.48,113.93 586.48,114.72 587.48,115.51 588.48,116.27 589.48,117.00 590.48,117.68 591.48,118.33 592.47,118.90 593.47,119.38 594.47,119.73 595.47,119.96 596.47,120.11 597.47,120.19 598.47,120.25 599.47,120.32 600.47,120.40 601.47,120.47 602.46,120.52 603.46,120.51 604.46,120.45 605.46,120.36 606.46,120.27 607.46,120.20 608.46,120.17 609.46,120.18 610.46,120.21 611.46,120.26 612.45,120.32 613.45,120.40 614.45,120.47 615.45,120.55 616.45,120.61 617.45,120.67 618.45,120.70 619.45,120.73 620.45,120.75 621.45,120.75 622.44,120.75 623.44,120.74 624.44,120.73 625.44,120.71 626.44,120.70 627.44,120.68 628.44,120.66 629.44,120.64 630.44,120.63 631.44,120.62 632.43,120.61 633.43,120.60 634.43,120.60 635.43,120.60 636.43,120.60 637.43,120.61 638.43,120.61 639.43,120.62 640.43,120.62 641.43,120.63 642.42,120.63 643.42,120.63 644.42,120.64 645.42,120.64 646.42,120.64 647.42,120.64 648.42,120.64 649.42,120.64 650.42,120.64 651.42,120.64 652.41,120.64 653.41,120.64 654.41,120.63 655.41,120.63 656.41,120.63 657.41,120.63 658.41,120.63 659.41,120.63 660.41,120.63 661.41,120.63 662.40,120.63 663.40,120.63 664.40,120.63 665.40,120.63 666.40,120.63 667.40,120.63 668.40,120.63 669.40,120.63 670.40,120.63 671.40,120.63 672.39,120.63 673.39,120.63 674.39,120.63 675.39,120.63 676.39,120.63 677.39,120.63" fill="none" stroke="#ff0000" stroke-width="2.3" stroke-linejoin="round"/><rect x="12.7" y="18.5" width="319.7" height="124.8" fill="none" stroke="#adadad" stroke-width="1.1"/><rect x="357.7" y="18.5" width="319.7" height="124.8" fill="none" stroke="#adadad" stroke-width="1.1"/><text x="22.26" y="40.60" font-size="19.3" font-family='"Liberation Sans", sans-serif' xml:space="preserve">σ </text><path transform="translate(39.53 40.60) scale(0.009424 -0.009424)" d="M140 887H1090V1035H140ZM140 437H1090V585H140Z"/><text x="50.80" y="40.60" font-size="19.3" font-family='"Liberation Sans", sans-serif' xml:space="preserve"> 0.</text><path transform="translate(72.26 40.60) scale(0.009424 -0.009424)" d="M763 0H583V1147Q518 1085 412.5 1023Q307 961 223 930V1104Q374 1175 487 1276Q600 1377 647 1472H763Z"/><text x="83.00" y="40.60" font-size="19.3" font-family='"Liberation Sans", sans-serif' xml:space="preserve"> mm/yr</text><path d="M52.67 159.5 v6.1 M52.67 284.3 v-6.1 M92.63 159.5 v6.1 M92.63 284.3 v-6.1 M132.59 159.5 v6.1 M132.59 284.3 v-6.1 M172.55 159.5 v6.1 M172.55 284.3 v-6.1 M212.51 159.5 v6.1 M212.51 284.3 v-6.1 M252.47 159.5 v6.1 M252.47 284.3 v-6.1 M292.43 159.5 v6.1 M292.43 284.3 v-6.1 M12.7 272.71 h6.1 M332.4 272.71 h-6.1 M12.7 255.84 h6.1 M332.4 255.84 h-6.1 M12.7 238.97 h6.1 M332.4 238.97 h-6.1 M12.7 222.10 h6.1 M332.4 222.10 h-6.1 M12.7 205.23 h6.1 M332.4 205.23 h-6.1 M12.7 188.36 h6.1 M332.4 188.36 h-6.1 M12.7 171.49 h6.1 M332.4 171.49 h-6.1" stroke="#adadad" stroke-width="1.1" fill="none"/><text x="12.71" y="294.8" font-size="12.7" text-anchor="middle" font-family='"Liberation Sans", sans-serif'>-80</text><text x="52.67" y="294.8" font-size="12.7" text-anchor="middle" font-family='"Liberation Sans", sans-serif'>-60</text><text x="92.63" y="294.8" font-size="12.7" text-anchor="middle" font-family='"Liberation Sans", sans-serif'>-40</text><text x="132.59" y="294.8" font-size="12.7" text-anchor="middle" font-family='"Liberation Sans", sans-serif'>-20</text><text x="172.55" y="294.8" font-size="12.7" text-anchor="middle" font-family='"Liberation Sans", sans-serif'>0</text><text x="212.51" y="294.8" font-size="12.7" text-anchor="middle" font-family='"Liberation Sans", sans-serif'>20</text><text x="252.47" y="294.8" font-size="12.7" text-anchor="middle" font-family='"Liberation Sans", sans-serif'>40</text><text x="292.43" y="294.8" font-size="12.7" text-anchor="middle" font-family='"Liberation Sans", sans-serif'>60</text><text x="332.39" y="294.8" font-size="12.7" text-anchor="middle" font-family='"Liberation Sans", sans-serif'>80</text><text x="0.31" y="277.19" font-size="12.7" font-family='"Liberation Sans", sans-serif' xml:space="preserve">-3</text><text x="0.31" y="260.32" font-size="12.7" font-family='"Liberation Sans", sans-serif' xml:space="preserve">-2</text><text x="0.31" y="243.45" font-size="12.7" font-family='"Liberation Sans", sans-serif' xml:space="preserve">-</text><path transform="translate(4.54 243.45) scale(0.006201 -0.006201)" d="M763 0H583V1147Q518 1085 412.5 1023Q307 961 223 930V1104Q374 1175 487 1276Q600 1377 647 1472H763Z"/><text x="4.54" y="226.58" font-size="12.7" font-family='"Liberation Sans", sans-serif' xml:space="preserve">0</text><path transform="translate(4.54 209.71) scale(0.006201 -0.006201)" d="M763 0H583V1147Q518 1085 412.5 1023Q307 961 223 930V1104Q374 1175 487 1276Q600 1377 647 1472H763Z"/><text x="4.54" y="192.84" font-size="12.7" font-family='"Liberation Sans", sans-serif' xml:space="preserve">2</text><text x="4.54" y="175.97" font-size="12.7" font-family='"Liberation Sans", sans-serif' xml:space="preserve">3</text><path d="M397.67 159.5 v6.1 M397.67 284.3 v-6.1 M437.63 159.5 v6.1 M437.63 284.3 v-6.1 M477.59 159.5 v6.1 M477.59 284.3 v-6.1 M517.55 159.5 v6.1 M517.55 284.3 v-6.1 M557.51 159.5 v6.1 M557.51 284.3 v-6.1 M597.47 159.5 v6.1 M597.47 284.3 v-6.1 M637.43 159.5 v6.1 M637.43 284.3 v-6.1 M357.7 271.95 h6.1 M677.4 271.95 h-6.1 M357.7 240.76 h6.1 M677.4 240.76 h-6.1 M357.7 209.57 h6.1 M677.4 209.57 h-6.1 M357.7 178.38 h6.1 M677.4 178.38 h-6.1" stroke="#adadad" stroke-width="1.1" fill="none"/><text x="357.71" y="294.8" font-size="12.7" text-anchor="middle" font-family='"Liberation Sans", sans-serif'>-80</text><text x="397.67" y="294.8" font-size="12.7" text-anchor="middle" font-family='"Liberation Sans", sans-serif'>-60</text><text x="437.63" y="294.8" font-size="12.7" text-anchor="middle" font-family='"Liberation Sans", sans-serif'>-40</text><text x="477.59" y="294.8" font-size="12.7" text-anchor="middle" font-family='"Liberation Sans", sans-serif'>-20</text><text x="517.55" y="294.8" font-size="12.7" text-anchor="middle" font-family='"Liberation Sans", sans-serif'>0</text><text x="557.51" y="294.8" font-size="12.7" text-anchor="middle" font-family='"Liberation Sans", sans-serif'>20</text><text x="597.47" y="294.8" font-size="12.7" text-anchor="middle" font-family='"Liberation Sans", sans-serif'>40</text><text x="637.43" y="294.8" font-size="12.7" text-anchor="middle" font-family='"Liberation Sans", sans-serif'>60</text><text x="677.39" y="294.8" font-size="12.7" text-anchor="middle" font-family='"Liberation Sans", sans-serif'>80</text><text x="356.59999999999997" y="276.43" font-size="12.7" text-anchor="end" font-family='"Liberation Sans", sans-serif'>0</text><text x="356.59999999999997" y="245.24" font-size="12.7" text-anchor="end" font-family='"Liberation Sans", sans-serif'>25</text><text x="356.59999999999997" y="214.05" font-size="12.7" text-anchor="end" font-family='"Liberation Sans", sans-serif'>50</text><text x="356.59999999999997" y="182.86" font-size="12.7" text-anchor="end" font-family='"Liberation Sans", sans-serif'>75</text><path d="M172.55 284.3 V159.5 M517.55 284.3 V159.5" stroke="#000" stroke-width="1.2" stroke-dasharray="4 1.6" fill="none"/><circle cx="22.30" cy="272.20" r="2.9" fill="#000" clip-path="url(#cl1)"/><circle cx="39.28" cy="271.19" r="2.9" fill="#000" clip-path="url(#cl1)"/><circle cx="63.46" cy="268.16" r="2.9" fill="#000" clip-path="url(#cl1)"/><circle cx="83.84" cy="266.30" r="2.9" fill="#000" clip-path="url(#cl1)"/><circle cx="102.02" cy="265.29" r="2.9" fill="#000" clip-path="url(#cl1)"/><circle cx="124.20" cy="256.51" r="2.9" fill="#000" clip-path="url(#cl1)"/><circle cx="141.38" cy="252.63" r="2.9" fill="#000" clip-path="url(#cl1)"/><circle cx="161.56" cy="238.63" r="2.9" fill="#000" clip-path="url(#cl1)"/><circle cx="181.94" cy="206.41" r="2.9" fill="#000" clip-path="url(#cl1)"/><circle cx="202.52" cy="196.29" r="2.9" fill="#000" clip-path="url(#cl1)"/><circle cx="223.90" cy="186.50" r="2.9" fill="#000" clip-path="url(#cl1)"/><circle cx="239.08" cy="183.30" r="2.9" fill="#000" clip-path="url(#cl1)"/><circle cx="263.86" cy="177.23" r="2.9" fill="#000" clip-path="url(#cl1)"/><circle cx="284.84" cy="178.41" r="2.9" fill="#000" clip-path="url(#cl1)"/><circle cx="302.02" cy="165.92" r="2.9" fill="#000" clip-path="url(#cl1)"/><circle cx="321.80" cy="171.83" r="2.9" fill="#000" clip-path="url(#cl1)"/><circle cx="367.30" cy="278.39" r="2.9" fill="#000"/><circle cx="384.28" cy="278.39" r="2.9" fill="#000"/><circle cx="408.46" cy="278.39" r="2.9" fill="#000"/><circle cx="428.84" cy="278.39" r="2.9" fill="#000"/><circle cx="447.02" cy="278.39" r="2.9" fill="#000"/><circle cx="469.20" cy="278.39" r="2.9" fill="#000"/><circle cx="486.38" cy="278.39" r="2.9" fill="#000"/><circle cx="506.56" cy="278.39" r="2.9" fill="#000"/><circle cx="526.74" cy="278.39" r="2.9" fill="#000"/><circle cx="546.92" cy="278.39" r="2.9" fill="#000"/><circle cx="568.70" cy="278.39" r="2.9" fill="#000"/><circle cx="583.88" cy="278.39" r="2.9" fill="#000"/><circle cx="608.86" cy="278.39" r="2.9" fill="#000"/><circle cx="630.04" cy="278.39" r="2.9" fill="#000"/><circle cx="647.02" cy="278.39" r="2.9" fill="#000"/><circle cx="666.80" cy="278.39" r="2.9" fill="#000"/><polyline clip-path="url(#cl1)" points="12.71,273.55 13.71,273.45 14.71,273.35 15.71,273.25 16.71,273.15 17.71,273.05 18.70,272.95 19.70,272.85 20.70,272.74 21.70,272.64 22.70,272.54 23.70,272.44 24.70,272.33 25.70,272.23 26.70,272.13 27.70,272.02 28.69,271.92 29.69,271.81 30.69,271.71 31.69,271.60 32.69,271.50 33.69,271.39 34.69,271.28 35.69,271.18 36.69,271.07 37.69,270.96 38.68,270.85 39.68,270.74 40.68,270.63 41.68,270.52 42.68,270.41 43.68,270.30 44.68,270.19 45.68,270.08 46.68,269.97 47.68,269.85 48.67,269.74 49.67,269.63 50.67,269.51 51.67,269.40 52.67,269.28 53.67,269.17 54.67,269.05 55.67,268.93 56.67,268.81 57.67,268.69 58.66,268.57 59.66,268.45 60.66,268.33 61.66,268.21 62.66,268.09 63.66,267.96 64.66,267.84 65.66,267.72 66.66,267.59 67.66,267.46 68.65,267.34 69.65,267.21 70.65,267.08 71.65,266.95 72.65,266.81 73.65,266.68 74.65,266.55 75.65,266.41 76.65,266.28 77.65,266.14 78.64,266.00 79.64,265.86 80.64,265.72 81.64,265.58 82.64,265.44 83.64,265.29 84.64,265.15 85.64,265.00 86.64,264.85 87.64,264.70 88.63,264.54 89.63,264.39 90.63,264.23 91.63,264.08 92.63,263.92 93.63,263.75 94.63,263.59 95.63,263.43 96.63,263.26 97.63,263.09 98.62,262.91 99.62,262.74 100.62,262.56 101.62,262.38 102.62,262.20 103.62,262.01 104.62,261.83 105.62,261.63 106.62,261.44 107.62,261.24 108.61,261.04 109.61,260.84 110.61,260.63 111.61,260.42 112.61,260.20 113.61,259.98 114.61,259.75 115.61,259.52 116.61,259.29 117.61,259.05 118.60,258.81 119.60,258.56 120.60,258.30 121.60,258.04 122.60,257.77 123.60,257.50 124.60,257.22 125.60,256.93 126.60,256.63 127.60,256.33 128.59,256.01 129.59,255.69 130.59,255.36 131.59,255.02 132.59,254.67 133.59,254.30 134.59,253.93 135.59,253.54 136.59,253.14 137.59,252.73 138.58,252.30 139.58,251.86 140.58,251.40 141.58,250.92 142.58,250.42 143.58,249.91 144.58,249.37 145.58,248.81 146.58,248.23 147.58,247.63 148.57,247.00 149.57,246.34 150.57,245.65 151.57,244.94 152.57,244.19 153.57,243.40 154.57,242.59 155.57,241.73 156.57,240.84 157.56,239.91 158.56,238.94 159.56,237.92 160.56,236.87 161.56,235.77 162.56,234.63 163.56,233.45 164.56,232.22 165.56,230.96 166.56,229.67 167.56,228.34 168.55,226.98 169.55,225.60 170.55,224.20 171.55,222.79 172.55,221.37 173.55,219.95 174.55,218.54 175.55,217.14 176.55,215.76 177.55,214.41 178.54,213.08 179.54,211.78 180.54,210.52 181.54,209.30 182.54,208.12 183.54,206.98 184.54,205.88 185.54,204.82 186.54,203.81 187.54,202.84 188.53,201.90 189.53,201.01 190.53,200.16 191.53,199.34 192.53,198.56 193.53,197.81 194.53,197.09 195.53,196.40 196.53,195.75 197.53,195.12 198.52,194.51 199.52,193.93 200.52,193.37 201.52,192.84 202.52,192.32 203.52,191.83 204.52,191.35 205.52,190.89 206.52,190.44 207.52,190.02 208.51,189.60 209.51,189.20 210.51,188.82 211.51,188.44 212.51,188.08 213.51,187.73 214.51,187.39 215.51,187.05 216.51,186.73 217.50,186.42 218.50,186.11 219.50,185.82 220.50,185.53 221.50,185.25 222.50,184.97 223.50,184.70 224.50,184.44 225.50,184.19 226.50,183.94 227.50,183.69 228.49,183.45 229.49,183.22 230.49,182.99 231.49,182.77 232.49,182.55 233.49,182.33 234.49,182.12 235.49,181.91 236.49,181.70 237.49,181.50 238.48,181.30 239.48,181.11 240.48,180.92 241.48,180.73 242.48,180.54 243.48,180.36 244.48,180.18 245.48,180.01 246.48,179.83 247.48,179.66 248.47,179.49 249.47,179.32 250.47,179.15 251.47,178.99 252.47,178.83 253.47,178.67 254.47,178.51 255.47,178.35 256.47,178.20 257.47,178.05 258.46,177.90 259.46,177.75 260.46,177.60 261.46,177.45 262.46,177.31 263.46,177.16 264.46,177.02 265.46,176.88 266.46,176.74 267.46,176.60 268.45,176.47 269.45,176.33 270.45,176.20 271.45,176.06 272.45,175.93 273.45,175.80 274.45,175.67 275.45,175.54 276.45,175.41 277.44,175.28 278.44,175.16 279.44,175.03 280.44,174.90 281.44,174.78 282.44,174.66 283.44,174.53 284.44,174.41 285.44,174.29 286.44,174.17 287.44,174.05 288.43,173.93 289.43,173.81 290.43,173.70 291.43,173.58 292.43,173.46 293.43,173.35 294.43,173.23 295.43,173.12 296.43,173.00 297.43,172.89 298.42,172.78 299.42,172.66 300.42,172.55 301.42,172.44 302.42,172.33 303.42,172.22 304.42,172.11 305.42,172.00 306.42,171.89 307.42,171.78 308.41,171.68 309.41,171.57 310.41,171.46 311.41,171.35 312.41,171.25 313.41,171.14 314.41,171.04 315.41,170.93 316.41,170.83 317.40,170.72 318.40,170.62 319.40,170.51 320.40,170.41 321.40,170.31 322.40,170.21 323.40,170.10 324.40,170.00 325.40,169.90 326.40,169.80 327.39,169.70 328.39,169.60 329.39,169.50 330.39,169.39 331.39,169.29 332.39,169.19" fill="none" stroke="#000" stroke-width="1.6" stroke-linejoin="round"/><polyline clip-path="url(#cl1)" points="12.71,272.70 13.71,272.57 14.71,272.45 15.71,272.32 16.71,272.19 17.71,272.07 18.70,271.94 19.70,271.82 20.70,271.70 21.70,271.59 22.70,271.47 23.70,271.37 24.70,271.26 25.70,271.16 26.70,271.06 27.70,270.96 28.69,270.87 29.69,270.78 30.69,270.69 31.69,270.61 32.69,270.52 33.69,270.44 34.69,270.35 35.69,270.26 36.69,270.18 37.69,270.09 38.68,269.99 39.68,269.90 40.68,269.80 41.68,269.70 42.68,269.60 43.68,269.50 44.68,269.40 45.68,269.30 46.68,269.20 47.68,269.10 48.67,269.00 49.67,268.91 50.67,268.82 51.67,268.73 52.67,268.64 53.67,268.56 54.67,268.48 55.67,268.40 56.67,268.33 57.67,268.25 58.66,268.17 59.66,268.10 60.66,268.02 61.66,267.95 62.66,267.87 63.66,267.79 64.66,267.71 65.66,267.62 66.66,267.53 67.66,267.44 68.65,267.34 69.65,267.25 70.65,267.15 71.65,267.05 72.65,266.94 73.65,266.83 74.65,266.71 75.65,266.59 76.65,266.47 77.65,266.35 78.64,266.23 79.64,266.11 80.64,266.00 81.64,265.88 82.64,265.76 83.64,265.65 84.64,265.53 85.64,265.42 86.64,265.31 87.64,265.20 88.63,265.09 89.63,264.99 90.63,264.88 91.63,264.78 92.63,264.68 93.63,264.58 94.63,264.48 95.63,264.38 96.63,264.27 97.63,264.15 98.62,264.03 99.62,263.90 100.62,263.76 101.62,263.60 102.62,263.44 103.62,263.25 104.62,263.06 105.62,262.86 106.62,262.64 107.62,262.42 108.61,262.18 109.61,261.94 110.61,261.70 111.61,261.44 112.61,261.18 113.61,260.91 114.61,260.63 115.61,260.35 116.61,260.06 117.61,259.76 118.60,259.45 119.60,259.14 120.60,258.81 121.60,258.48 122.60,258.15 123.60,257.80 124.60,257.45 125.60,257.08 126.60,256.71 127.60,256.33 128.59,255.93 129.59,255.53 130.59,255.11 131.59,254.68 132.59,254.24 133.59,253.78 134.59,253.31 135.59,252.83 136.59,252.33 137.59,251.82 138.58,251.29 139.58,250.74 140.58,250.18 141.58,249.59 142.58,248.99 143.58,248.37 144.58,247.72 145.58,247.06 146.58,246.37 147.58,245.66 148.57,244.93 149.57,244.18 150.57,243.40 151.57,242.60 152.57,241.78 153.57,240.94 154.57,240.08 155.57,239.20 156.57,238.30 157.56,237.38 158.56,236.44 159.56,235.49 160.56,234.52 161.56,233.53 162.56,232.52 163.56,231.50 164.56,230.46 165.56,229.40 166.56,228.32 167.56,227.21 168.55,226.08 169.55,224.92 170.55,223.74 171.55,222.54 172.55,221.34 173.55,220.13 174.55,218.90 175.55,217.66 176.55,216.42 177.55,215.21 178.54,214.02 179.54,212.89 180.54,211.78 181.54,210.68 182.54,209.60 183.54,208.55 184.54,207.53 185.54,206.57 186.54,205.65 187.54,204.79 188.53,203.97 189.53,203.19 190.53,202.45 191.53,201.75 192.53,201.07 193.53,200.42 194.53,199.80 195.53,199.21 196.53,198.64 197.53,198.10 198.52,197.58 199.52,197.08 200.52,196.61 201.52,196.15 202.52,195.70 203.52,195.27 204.52,194.85 205.52,194.43 206.52,194.03 207.52,193.62 208.51,193.23 209.51,192.85 210.51,192.47 211.51,192.11 212.51,191.76 213.51,191.42 214.51,191.09 215.51,190.78 216.51,190.47 217.50,190.17 218.50,189.88 219.50,189.59 220.50,189.32 221.50,189.04 222.50,188.78 223.50,188.52 224.50,188.26 225.50,188.00 226.50,187.75 227.50,187.50 228.49,187.24 229.49,186.99 230.49,186.73 231.49,186.47 232.49,186.19 233.49,185.92 234.49,185.63 235.49,185.33 236.49,185.02 237.49,184.70 238.48,184.37 239.48,184.02 240.48,183.67 241.48,183.34 242.48,183.02 243.48,182.72 244.48,182.46 245.48,182.24 246.48,182.05 247.48,181.87 248.47,181.70 249.47,181.53 250.47,181.35 251.47,181.15 252.47,180.93 253.47,180.69 254.47,180.44 255.47,180.18 256.47,179.93 257.47,179.69 258.46,179.48 259.46,179.27 260.46,179.07 261.46,178.87 262.46,178.67 263.46,178.46 264.46,178.25 265.46,178.03 266.46,177.81 267.46,177.59 268.45,177.36 269.45,177.14 270.45,176.91 271.45,176.69 272.45,176.47 273.45,176.28 274.45,176.10 275.45,175.92 276.45,175.74 277.44,175.56 278.44,175.39 279.44,175.22 280.44,175.05 281.44,174.89 282.44,174.73 283.44,174.57 284.44,174.42 285.44,174.27 286.44,174.12 287.44,173.98 288.43,173.84 289.43,173.70 290.43,173.56 291.43,173.43 292.43,173.30 293.43,173.17 294.43,173.04 295.43,172.91 296.43,172.79 297.43,172.66 298.42,172.54 299.42,172.42 300.42,172.30 301.42,172.18 302.42,172.07 303.42,171.96 304.42,171.85 305.42,171.75 306.42,171.65 307.42,171.55 308.41,171.46 309.41,171.38 310.41,171.30 311.41,171.22 312.41,171.15 313.41,171.09 314.41,171.02 315.41,170.96 316.41,170.91 317.40,170.85 318.40,170.79 319.40,170.74 320.40,170.68 321.40,170.62 322.40,170.56 323.40,170.49 324.40,170.42 325.40,170.35 326.40,170.27 327.39,170.20 328.39,170.12 329.39,170.04 330.39,169.96 331.39,169.87 332.39,169.79" fill="none" stroke="#1480f5" stroke-width="1.6" stroke-linejoin="round"/><polyline clip-path="url(#cl1)" points="12.71,273.55 13.71,273.40 14.71,273.26 15.71,273.12 16.71,272.98 17.71,272.84 18.70,272.70 19.70,272.57 20.70,272.44 21.70,272.31 22.70,272.18 23.70,272.05 24.70,271.93 25.70,271.82 26.70,271.71 27.70,271.60 28.69,271.49 29.69,271.39 30.69,271.28 31.69,271.18 32.69,271.08 33.69,270.98 34.69,270.88 35.69,270.78 36.69,270.68 37.69,270.58 38.68,270.47 39.68,270.36 40.68,270.25 41.68,270.14 42.68,270.02 43.68,269.91 44.68,269.79 45.68,269.68 46.68,269.57 47.68,269.45 48.67,269.34 49.67,269.23 50.67,269.13 51.67,269.02 52.67,268.92 53.67,268.83 54.67,268.73 55.67,268.64 56.67,268.55 57.67,268.46 58.66,268.37 59.66,268.28 60.66,268.19 61.66,268.10 62.66,268.01 63.66,267.92 64.66,267.82 65.66,267.72 66.66,267.61 67.66,267.51 68.65,267.40 69.65,267.29 70.65,267.17 71.65,267.06 72.65,266.94 73.65,266.83 74.65,266.71 75.65,266.59 76.65,266.47 77.65,266.35 78.64,266.23 79.64,266.11 80.64,266.00 81.64,265.88 82.64,265.76 83.64,265.65 84.64,265.53 85.64,265.42 86.64,265.31 87.64,265.20 88.63,265.09 89.63,264.99 90.63,264.88 91.63,264.78 92.63,264.68 93.63,264.58 94.63,264.48 95.63,264.38 96.63,264.27 97.63,264.15 98.62,264.03 99.62,263.90 100.62,263.76 101.62,263.60 102.62,263.44 103.62,263.25 104.62,263.06 105.62,262.86 106.62,262.64 107.62,262.42 108.61,262.18 109.61,261.94 110.61,261.70 111.61,261.44 112.61,261.18 113.61,260.91 114.61,260.63 115.61,260.35 116.61,260.06 117.61,259.76 118.60,259.45 119.60,259.14 120.60,258.81 121.60,258.48 122.60,258.15 123.60,257.80 124.60,257.45 125.60,257.08 126.60,256.71 127.60,256.33 128.59,255.93 129.59,255.53 130.59,255.11 131.59,254.68 132.59,254.24 133.59,253.78 134.59,253.31 135.59,252.83 136.59,252.33 137.59,251.82 138.58,251.29 139.58,250.74 140.58,250.18 141.58,249.59 142.58,248.99 143.58,248.37 144.58,247.72 145.58,247.06 146.58,246.37 147.58,245.66 148.57,244.93 149.57,244.18 150.57,243.40 151.57,242.60 152.57,241.78 153.57,240.94 154.57,240.08 155.57,239.20 156.57,238.30 157.56,237.38 158.56,236.44 159.56,235.49 160.56,234.52 161.56,233.53 162.56,232.52 163.56,231.50 164.56,230.46 165.56,229.40 166.56,228.32 167.56,227.21 168.55,226.08 169.55,224.92 170.55,223.74 171.55,222.54 172.55,221.34 173.55,220.13 174.55,218.90 175.55,217.66 176.55,216.42 177.55,215.21 178.54,214.02 179.54,212.89 180.54,211.78 181.54,210.68 182.54,209.60 183.54,208.55 184.54,207.53 185.54,206.57 186.54,205.65 187.54,204.79 188.53,203.97 189.53,203.19 190.53,202.45 191.53,201.75 192.53,201.07 193.53,200.42 194.53,199.80 195.53,199.21 196.53,198.64 197.53,198.10 198.52,197.58 199.52,197.08 200.52,196.61 201.52,196.15 202.52,195.70 203.52,195.27 204.52,194.85 205.52,194.43 206.52,194.03 207.52,193.62 208.51,193.23 209.51,192.85 210.51,192.47 211.51,192.11 212.51,191.76 213.51,191.42 214.51,191.09 215.51,190.78 216.51,190.47 217.50,190.17 218.50,189.88 219.50,189.59 220.50,189.32 221.50,189.04 222.50,188.78 223.50,188.52 224.50,188.26 225.50,188.00 226.50,187.75 227.50,187.50 228.49,187.24 229.49,186.99 230.49,186.73 231.49,186.47 232.49,186.19 233.49,185.92 234.49,185.63 235.49,185.33 236.49,185.02 237.49,184.70 238.48,184.37 239.48,184.02 240.48,183.67 241.48,183.34 242.48,183.02 243.48,182.72 244.48,182.46 245.48,182.24 246.48,182.05 247.48,181.87 248.47,181.70 249.47,181.53 250.47,181.35 251.47,181.15 252.47,180.93 253.47,180.69 254.47,180.44 255.47,180.18 256.47,179.93 257.47,179.69 258.46,179.48 259.46,179.27 260.46,179.07 261.46,178.87 262.46,178.67 263.46,178.46 264.46,178.25 265.46,178.03 266.46,177.81 267.46,177.59 268.45,177.36 269.45,177.14 270.45,176.91 271.45,176.69 272.45,176.47 273.45,176.25 274.45,176.04 275.45,175.83 276.45,175.62 277.44,175.41 278.44,175.21 279.44,175.01 280.44,174.81 281.44,174.61 282.44,174.42 283.44,174.23 284.44,174.05 285.44,173.87 286.44,173.69 287.44,173.51 288.43,173.34 289.43,173.17 290.43,173.01 291.43,172.84 292.43,172.68 293.43,172.52 294.43,172.36 295.43,172.20 296.43,172.05 297.43,171.89 298.42,171.74 299.42,171.59 300.42,171.44 301.42,171.29 302.42,171.14 303.42,171.00 304.42,170.86 305.42,170.73 306.42,170.60 307.42,170.47 308.41,170.35 309.41,170.23 310.41,170.12 311.41,170.02 312.41,169.92 313.41,169.82 314.41,169.73 315.41,169.63 316.41,169.55 317.40,169.46 318.40,169.37 319.40,169.28 320.40,169.19 321.40,169.10 322.40,169.01 323.40,168.91 324.40,168.81 325.40,168.71 326.40,168.60 327.39,168.50 328.39,168.39 329.39,168.27 330.39,168.16 331.39,168.05 332.39,167.93" fill="none" stroke="#ff0000" stroke-width="2.3" stroke-linejoin="round"/><polyline clip-path="url(#cr1)" points="357.71,264.03 358.71,264.01 359.71,263.99 360.71,263.97 361.71,263.95 362.70,263.93 363.70,263.91 364.70,263.88 365.70,263.86 366.70,263.84 367.70,263.82 368.70,263.79 369.70,263.77 370.70,263.74 371.70,263.72 372.69,263.69 373.69,263.66 374.69,263.64 375.69,263.61 376.69,263.58 377.69,263.55 378.69,263.52 379.69,263.49 380.69,263.46 381.69,263.43 382.68,263.40 383.68,263.36 384.68,263.33 385.68,263.30 386.68,263.26 387.68,263.23 388.68,263.19 389.68,263.15 390.68,263.11 391.68,263.07 392.67,263.03 393.67,262.99 394.67,262.95 395.67,262.91 396.67,262.86 397.67,262.82 398.67,262.77 399.67,262.73 400.67,262.68 401.67,262.63 402.66,262.58 403.66,262.52 404.66,262.47 405.66,262.42 406.66,262.36 407.66,262.30 408.66,262.24 409.66,262.18 410.66,262.12 411.66,262.06 412.65,261.99 413.65,261.92 414.65,261.85 415.65,261.78 416.65,261.71 417.65,261.63 418.65,261.55 419.65,261.47 420.65,261.39 421.65,261.30 422.64,261.22 423.64,261.13 424.64,261.03 425.64,260.94 426.64,260.84 427.64,260.74 428.64,260.63 429.64,260.52 430.64,260.41 431.64,260.30 432.63,260.18 433.63,260.05 434.63,259.92 435.63,259.79 436.63,259.66 437.63,259.52 438.63,259.37 439.63,259.22 440.63,259.06 441.63,258.90 442.62,258.73 443.62,258.56 444.62,258.37 445.62,258.19 446.62,257.99 447.62,257.79 448.62,257.58 449.62,257.36 450.62,257.13 451.62,256.89 452.61,256.65 453.61,256.39 454.61,256.12 455.61,255.85 456.61,255.55 457.61,255.25 458.61,254.93 459.61,254.60 460.61,254.26 461.61,253.90 462.60,253.52 463.60,253.12 464.60,252.71 465.60,252.27 466.60,251.82 467.60,251.34 468.60,250.84 469.60,250.31 470.60,249.75 471.60,249.17 472.59,248.56 473.59,247.91 474.59,247.23 475.59,246.52 476.59,245.76 477.59,244.97 478.59,244.12 479.59,243.24 480.59,242.30 481.59,241.30 482.58,240.25 483.58,239.14 484.58,237.96 485.58,236.72 486.58,235.40 487.58,234.00 488.58,232.52 489.58,230.95 490.58,229.29 491.58,227.53 492.57,225.67 493.57,223.71 494.57,221.63 495.57,219.44 496.57,217.13 497.57,214.71 498.57,212.16 499.57,209.50 500.57,206.73 501.57,203.85 502.56,200.88 503.56,197.83 504.56,194.72 505.56,191.58 506.56,188.43 507.56,185.31 508.56,182.26 509.56,179.33 510.56,176.57 511.56,174.03 512.55,171.76 513.55,169.82 514.55,168.26 515.55,167.11 516.55,166.41 517.55,166.17 518.55,166.41 519.55,167.11 520.55,168.26 521.55,169.82 522.54,171.76 523.54,174.03 524.54,176.57 525.54,179.33 526.54,182.26 527.54,185.31 528.54,188.43 529.54,191.58 530.54,194.72 531.54,197.83 532.53,200.88 533.53,203.85 534.53,206.73 535.53,209.50 536.53,212.16 537.53,214.71 538.53,217.13 539.53,219.44 540.53,221.63 541.53,223.71 542.52,225.67 543.52,227.53 544.52,229.29 545.52,230.95 546.52,232.52 547.52,234.00 548.52,235.40 549.52,236.72 550.52,237.96 551.52,239.14 552.51,240.25 553.51,241.30 554.51,242.30 555.51,243.24 556.51,244.12 557.51,244.97 558.51,245.76 559.51,246.52 560.51,247.23 561.51,247.91 562.50,248.56 563.50,249.17 564.50,249.75 565.50,250.31 566.50,250.84 567.50,251.34 568.50,251.82 569.50,252.27 570.50,252.71 571.50,253.12 572.50,253.52 573.49,253.90 574.49,254.26 575.49,254.60 576.49,254.93 577.49,255.25 578.49,255.55 579.49,255.85 580.49,256.12 581.49,256.39 582.48,256.65 583.48,256.89 584.48,257.13 585.48,257.36 586.48,257.58 587.48,257.79 588.48,257.99 589.48,258.19 590.48,258.37 591.48,258.56 592.47,258.73 593.47,258.90 594.47,259.06 595.47,259.22 596.47,259.37 597.47,259.52 598.47,259.66 599.47,259.79 600.47,259.92 601.47,260.05 602.46,260.18 603.46,260.30 604.46,260.41 605.46,260.52 606.46,260.63 607.46,260.74 608.46,260.84 609.46,260.94 610.46,261.03 611.46,261.13 612.45,261.22 613.45,261.30 614.45,261.39 615.45,261.47 616.45,261.55 617.45,261.63 618.45,261.71 619.45,261.78 620.45,261.85 621.45,261.92 622.44,261.99 623.44,262.06 624.44,262.12 625.44,262.18 626.44,262.24 627.44,262.30 628.44,262.36 629.44,262.42 630.44,262.47 631.44,262.52 632.43,262.58 633.43,262.63 634.43,262.68 635.43,262.73 636.43,262.77 637.43,262.82 638.43,262.86 639.43,262.91 640.43,262.95 641.43,262.99 642.42,263.03 643.42,263.07 644.42,263.11 645.42,263.15 646.42,263.19 647.42,263.23 648.42,263.26 649.42,263.30 650.42,263.33 651.42,263.36 652.41,263.40 653.41,263.43 654.41,263.46 655.41,263.49 656.41,263.52 657.41,263.55 658.41,263.58 659.41,263.61 660.41,263.64 661.41,263.66 662.40,263.69 663.40,263.72 664.40,263.74 665.40,263.77 666.40,263.79 667.40,263.82 668.40,263.84 669.40,263.86 670.40,263.88 671.40,263.91 672.39,263.93 673.39,263.95 674.39,263.97 675.39,263.99 676.39,264.01 677.39,264.03" fill="none" stroke="#000" stroke-width="1.6" stroke-linejoin="round"/><polyline clip-path="url(#cr1)" points="357.71,265.57 358.71,265.55 359.71,265.53 360.71,265.51 361.71,265.49 362.70,265.47 363.70,265.45 364.70,265.43 365.70,265.41 366.70,265.39 367.70,265.37 368.70,265.35 369.70,265.33 370.70,265.31 371.70,265.29 372.69,265.27 373.69,265.25 374.69,265.23 375.69,265.21 376.69,265.19 377.69,265.17 378.69,265.15 379.69,265.14 380.69,265.12 381.69,265.10 382.68,265.08 383.68,265.06 384.68,265.04 385.68,265.02 386.68,265.01 387.68,264.99 388.68,264.98 389.68,264.97 390.68,264.97 391.68,264.97 392.67,264.98 393.67,264.99 394.67,265.01 395.67,265.03 396.67,265.07 397.67,265.11 398.67,265.16 399.67,265.22 400.67,265.28 401.67,265.34 402.66,265.41 403.66,265.48 404.66,265.54 405.66,265.61 406.66,265.67 407.66,265.73 408.66,265.79 409.66,265.84 410.66,265.88 411.66,265.91 412.65,265.94 413.65,265.96 414.65,265.97 415.65,265.97 416.65,265.98 417.65,265.97 418.65,265.96 419.65,265.94 420.65,265.92 421.65,265.90 422.64,265.87 423.64,265.83 424.64,265.80 425.64,265.75 426.64,265.70 427.64,265.63 428.64,265.56 429.64,265.47 430.64,265.36 431.64,265.24 432.63,265.09 433.63,264.91 434.63,264.69 435.63,264.42 436.63,264.11 437.63,263.73 438.63,263.31 439.63,262.83 440.63,262.31 441.63,261.75 442.62,261.15 443.62,260.52 444.62,259.89 445.62,259.27 446.62,258.68 447.62,258.12 448.62,257.59 449.62,257.05 450.62,256.45 451.62,255.79 452.61,255.07 453.61,254.32 454.61,253.57 455.61,252.84 456.61,252.15 457.61,251.51 458.61,250.91 459.61,250.35 460.61,249.81 461.61,249.28 462.60,248.76 463.60,248.25 464.60,247.73 465.60,247.20 466.60,246.66 467.60,246.09 468.60,245.48 469.60,244.82 470.60,244.08 471.60,243.26 472.59,242.33 473.59,241.32 474.59,240.24 475.59,239.09 476.59,237.90 477.59,236.68 478.59,235.44 479.59,234.18 480.59,232.90 481.59,231.62 482.58,230.32 483.58,229.02 484.58,227.69 485.58,226.31 486.58,224.87 487.58,223.36 488.58,221.76 489.58,220.13 490.58,218.51 491.58,216.96 492.57,215.54 493.57,214.29 494.57,213.16 495.57,212.10 496.57,211.00 497.57,209.82 498.57,208.54 499.57,207.17 500.57,205.74 501.57,204.27 502.56,202.78 503.56,201.30 504.56,199.87 505.56,198.51 506.56,197.25 507.56,196.09 508.56,195.04 509.56,194.09 510.56,193.26 511.56,192.55 512.55,191.95 513.55,191.47 514.55,191.10 515.55,190.85 516.55,190.70 517.55,190.65 518.55,190.69 519.55,190.84 520.55,191.09 521.55,191.45 522.54,191.92 523.54,192.51 524.54,193.23 525.54,194.10 526.54,195.11 527.54,196.28 528.54,197.58 529.54,199.02 530.54,200.59 531.54,202.25 532.53,204.00 533.53,205.80 534.53,207.63 535.53,209.47 536.53,211.27 537.53,213.01 538.53,214.65 539.53,216.20 540.53,217.67 541.53,219.09 542.52,220.47 543.52,221.83 544.52,223.18 545.52,224.52 546.52,225.89 547.52,227.27 548.52,228.66 549.52,230.05 550.52,231.43 551.52,232.81 552.51,234.15 553.51,235.47 554.51,236.74 555.51,237.95 556.51,239.09 557.51,240.16 558.51,241.16 559.51,242.10 560.51,242.98 561.51,243.82 562.50,244.62 563.50,245.39 564.50,246.14 565.50,246.85 566.50,247.55 567.50,248.22 568.50,248.86 569.50,249.49 570.50,250.10 571.50,250.69 572.50,251.26 573.49,251.80 574.49,252.33 575.49,252.84 576.49,253.33 577.49,253.80 578.49,254.24 579.49,254.65 580.49,255.05 581.49,255.41 582.48,255.75 583.48,256.05 584.48,256.32 585.48,256.56 586.48,256.77 587.48,256.93 588.48,257.05 589.48,257.15 590.48,257.28 591.48,257.47 592.47,257.71 593.47,257.98 594.47,258.25 595.47,258.51 596.47,258.74 597.47,258.93 598.47,259.08 599.47,259.22 600.47,259.34 601.47,259.46 602.46,259.60 603.46,259.76 604.46,259.94 605.46,260.14 606.46,260.33 607.46,260.50 608.46,260.63 609.46,260.72 610.46,260.78 611.46,260.82 612.45,260.82 613.45,260.80 614.45,260.75 615.45,260.68 616.45,260.59 617.45,260.49 618.45,260.35 619.45,260.18 620.45,259.97 621.45,259.72 622.44,259.40 623.44,259.02 624.44,258.59 625.44,258.11 626.44,257.62 627.44,257.12 628.44,256.65 629.44,256.21 630.44,255.84 631.44,255.54 632.43,255.30 633.43,255.14 634.43,255.06 635.43,255.05 636.43,255.13 637.43,255.28 638.43,255.50 639.43,255.80 640.43,256.16 641.43,256.59 642.42,257.10 643.42,257.67 644.42,258.32 645.42,259.04 646.42,259.83 647.42,260.69 648.42,261.58 649.42,262.49 650.42,263.40 651.42,264.29 652.41,265.16 653.41,265.99 654.41,266.79 655.41,267.54 656.41,268.25 657.41,268.91 658.41,269.51 659.41,270.05 660.41,270.51 661.41,270.89 662.40,271.19 663.40,271.42 664.40,271.58 665.40,271.69 666.40,271.76 667.40,271.79 668.40,271.81 669.40,271.81 670.40,271.81 671.40,271.81 672.39,271.81 673.39,271.81 674.39,271.80 675.39,271.80 676.39,271.79 677.39,271.79" fill="none" stroke="#1480f5" stroke-width="1.6" stroke-linejoin="round"/><polyline clip-path="url(#cr1)" points="357.71,264.54 358.71,264.55 359.71,264.56 360.71,264.56 361.71,264.57 362.70,264.57 363.70,264.57 364.70,264.57 365.70,264.57 366.70,264.57 367.70,264.56 368.70,264.55 369.70,264.54 370.70,264.53 371.70,264.51 372.69,264.49 373.69,264.47 374.69,264.45 375.69,264.43 376.69,264.41 377.69,264.38 378.69,264.36 379.69,264.34 380.69,264.32 381.69,264.30 382.68,264.28 383.68,264.26 384.68,264.25 385.68,264.24 386.68,264.23 387.68,264.23 388.68,264.22 389.68,264.22 390.68,264.22 391.68,264.23 392.67,264.23 393.67,264.24 394.67,264.25 395.67,264.25 396.67,264.26 397.67,264.27 398.67,264.29 399.67,264.30 400.67,264.32 401.67,264.33 402.66,264.35 403.66,264.37 404.66,264.39 405.66,264.41 406.66,264.44 407.66,264.47 408.66,264.50 409.66,264.53 410.66,264.57 411.66,264.61 412.65,264.65 413.65,264.69 414.65,264.73 415.65,264.77 416.65,264.81 417.65,264.84 418.65,264.87 419.65,264.89 420.65,264.91 421.65,264.92 422.64,264.93 423.64,264.92 424.64,264.91 425.64,264.89 426.64,264.85 427.64,264.80 428.64,264.73 429.64,264.65 430.64,264.55 431.64,264.43 432.63,264.29 433.63,264.14 434.63,263.98 435.63,263.81 436.63,263.64 437.63,263.46 438.63,263.22 439.63,262.89 440.63,262.45 441.63,261.95 442.62,261.47 443.62,260.97 444.62,260.42 445.62,259.78 446.62,259.07 447.62,258.41 448.62,257.84 449.62,257.30 450.62,256.73 451.62,256.08 452.61,255.38 453.61,254.64 454.61,253.90 455.61,253.17 456.61,252.50 457.61,251.87 458.61,251.28 459.61,250.74 460.61,250.24 461.61,249.77 462.60,249.32 463.60,248.90 464.60,248.47 465.60,248.04 466.60,247.59 467.60,247.10 468.60,246.57 469.60,245.99 470.60,245.35 471.60,244.63 472.59,243.84 473.59,242.96 474.59,242.00 475.59,240.95 476.59,239.81 477.59,238.58 478.59,237.27 479.59,235.90 480.59,234.49 481.59,233.05 482.58,231.60 483.58,230.15 484.58,228.69 485.58,227.21 486.58,225.70 487.58,224.16 488.58,222.58 489.58,220.95 490.58,219.29 491.58,217.60 492.57,215.87 493.57,214.13 494.57,212.39 495.57,210.72 496.57,209.13 497.57,207.64 498.57,206.23 499.57,204.91 500.57,203.67 501.57,202.50 502.56,201.41 503.56,200.39 504.56,199.44 505.56,198.57 506.56,197.77 507.56,197.05 508.56,196.40 509.56,195.82 510.56,195.33 511.56,194.92 512.55,194.59 513.55,194.34 514.55,194.15 515.55,194.03 516.55,193.96 517.55,193.93 518.55,193.93 519.55,193.99 520.55,194.11 521.55,194.30 522.54,194.59 523.54,194.97 524.54,195.46 525.54,196.04 526.54,196.71 527.54,197.44 528.54,198.23 529.54,199.05 530.54,199.97 531.54,201.03 532.53,202.32 533.53,203.90 534.53,205.83 535.53,207.99 536.53,210.13 537.53,212.05 538.53,213.77 539.53,215.40 540.53,217.01 541.53,218.55 542.52,220.01 543.52,221.41 544.52,222.77 545.52,224.12 546.52,225.48 547.52,226.85 548.52,228.24 549.52,229.63 550.52,231.02 551.52,232.38 552.51,233.73 553.51,235.03 554.51,236.30 555.51,237.51 556.51,238.67 557.51,239.76 558.51,240.79 559.51,241.78 560.51,242.74 561.51,243.68 562.50,244.60 563.50,245.52 564.50,246.42 565.50,247.28 566.50,248.09 567.50,248.85 568.50,249.55 569.50,250.20 570.50,250.81 571.50,251.39 572.50,251.95 573.49,252.50 574.49,253.03 575.49,253.53 576.49,254.00 577.49,254.44 578.49,254.83 579.49,255.18 580.49,255.49 581.49,255.78 582.48,256.04 583.48,256.28 584.48,256.50 585.48,256.71 586.48,256.92 587.48,257.11 588.48,257.31 589.48,257.49 590.48,257.64 591.48,257.75 592.47,257.81 593.47,257.85 594.47,257.87 595.47,257.88 596.47,257.88 597.47,257.89 598.47,257.90 599.47,257.91 600.47,257.92 601.47,257.93 602.46,257.93 603.46,257.92 604.46,257.91 605.46,257.89 606.46,257.87 607.46,257.86 608.46,257.85 609.46,257.85 610.46,257.85 611.46,257.86 612.45,257.87 613.45,257.88 614.45,257.90 615.45,257.92 616.45,257.94 617.45,257.96 618.45,257.98 619.45,258.00 620.45,258.02 621.45,258.04 622.44,258.05 623.44,258.05 624.44,258.05 625.44,258.05 626.44,258.03 627.44,258.01 628.44,257.97 629.44,257.93 630.44,257.87 631.44,257.81 632.43,257.75 633.43,257.70 634.43,257.67 635.43,257.67 636.43,257.69 637.43,257.76 638.43,257.87 639.43,258.04 640.43,258.25 641.43,258.52 642.42,258.85 643.42,259.25 644.42,259.71 645.42,260.24 646.42,260.82 647.42,261.46 648.42,262.13 649.42,262.78 650.42,263.36 651.42,263.84 652.41,264.22 653.41,264.51 654.41,264.72 655.41,264.88 656.41,265.00 657.41,265.08 658.41,265.14 659.41,265.18 660.41,265.20 661.41,265.21 662.40,265.21 663.40,265.20 664.40,265.19 665.40,265.19 666.40,265.19 667.40,265.18 668.40,265.18 669.40,265.18 670.40,265.18 671.40,265.18 672.39,265.18 673.39,265.18 674.39,265.18 675.39,265.18 676.39,265.19 677.39,265.19" fill="none" stroke="#ff0000" stroke-width="2.3" stroke-linejoin="round"/><rect x="12.7" y="159.5" width="319.7" height="124.8" fill="none" stroke="#adadad" stroke-width="1.1"/><rect x="357.7" y="159.5" width="319.7" height="124.8" fill="none" stroke="#adadad" stroke-width="1.1"/><text x="22.26" y="181.60" font-size="19.3" font-family='"Liberation Sans", sans-serif' xml:space="preserve">σ </text><path transform="translate(39.53 181.60) scale(0.009424 -0.009424)" d="M140 887H1090V1035H140ZM140 437H1090V585H140Z"/><text x="50.80" y="181.60" font-size="19.3" font-family='"Liberation Sans", sans-serif' xml:space="preserve"> 0.2 mm/yr</text><path d="M52.67 300.5 v6.1 M52.67 425.3 v-6.1 M92.63 300.5 v6.1 M92.63 425.3 v-6.1 M132.59 300.5 v6.1 M132.59 425.3 v-6.1 M172.55 300.5 v6.1 M172.55 425.3 v-6.1 M212.51 300.5 v6.1 M212.51 425.3 v-6.1 M252.47 300.5 v6.1 M252.47 425.3 v-6.1 M292.43 300.5 v6.1 M292.43 425.3 v-6.1 M12.7 413.71 h6.1 M332.4 413.71 h-6.1 M12.7 396.84 h6.1 M332.4 396.84 h-6.1 M12.7 379.97 h6.1 M332.4 379.97 h-6.1 M12.7 363.10 h6.1 M332.4 363.10 h-6.1 M12.7 346.23 h6.1 M332.4 346.23 h-6.1 M12.7 329.36 h6.1 M332.4 329.36 h-6.1 M12.7 312.49 h6.1 M332.4 312.49 h-6.1" stroke="#adadad" stroke-width="1.1" fill="none"/><text x="12.71" y="435.8" font-size="12.7" text-anchor="middle" font-family='"Liberation Sans", sans-serif'>-80</text><text x="52.67" y="435.8" font-size="12.7" text-anchor="middle" font-family='"Liberation Sans", sans-serif'>-60</text><text x="92.63" y="435.8" font-size="12.7" text-anchor="middle" font-family='"Liberation Sans", sans-serif'>-40</text><text x="132.59" y="435.8" font-size="12.7" text-anchor="middle" font-family='"Liberation Sans", sans-serif'>-20</text><text x="172.55" y="435.8" font-size="12.7" text-anchor="middle" font-family='"Liberation Sans", sans-serif'>0</text><text x="212.51" y="435.8" font-size="12.7" text-anchor="middle" font-family='"Liberation Sans", sans-serif'>20</text><text x="252.47" y="435.8" font-size="12.7" text-anchor="middle" font-family='"Liberation Sans", sans-serif'>40</text><text x="292.43" y="435.8" font-size="12.7" text-anchor="middle" font-family='"Liberation Sans", sans-serif'>60</text><text x="332.39" y="435.8" font-size="12.7" text-anchor="middle" font-family='"Liberation Sans", sans-serif'>80</text><text x="0.31" y="418.19" font-size="12.7" font-family='"Liberation Sans", sans-serif' xml:space="preserve">-3</text><text x="0.31" y="401.32" font-size="12.7" font-family='"Liberation Sans", sans-serif' xml:space="preserve">-2</text><text x="0.31" y="384.45" font-size="12.7" font-family='"Liberation Sans", sans-serif' xml:space="preserve">-</text><path transform="translate(4.54 384.45) scale(0.006201 -0.006201)" d="M763 0H583V1147Q518 1085 412.5 1023Q307 961 223 930V1104Q374 1175 487 1276Q600 1377 647 1472H763Z"/><text x="4.54" y="367.58" font-size="12.7" font-family='"Liberation Sans", sans-serif' xml:space="preserve">0</text><path transform="translate(4.54 350.71) scale(0.006201 -0.006201)" d="M763 0H583V1147Q518 1085 412.5 1023Q307 961 223 930V1104Q374 1175 487 1276Q600 1377 647 1472H763Z"/><text x="4.54" y="333.84" font-size="12.7" font-family='"Liberation Sans", sans-serif' xml:space="preserve">2</text><text x="4.54" y="316.97" font-size="12.7" font-family='"Liberation Sans", sans-serif' xml:space="preserve">3</text><path d="M397.67 300.5 v6.1 M397.67 425.3 v-6.1 M437.63 300.5 v6.1 M437.63 425.3 v-6.1 M477.59 300.5 v6.1 M477.59 425.3 v-6.1 M517.55 300.5 v6.1 M517.55 425.3 v-6.1 M557.51 300.5 v6.1 M557.51 425.3 v-6.1 M597.47 300.5 v6.1 M597.47 425.3 v-6.1 M637.43 300.5 v6.1 M637.43 425.3 v-6.1 M357.7 412.95 h6.1 M677.4 412.95 h-6.1 M357.7 381.76 h6.1 M677.4 381.76 h-6.1 M357.7 350.57 h6.1 M677.4 350.57 h-6.1 M357.7 319.38 h6.1 M677.4 319.38 h-6.1" stroke="#adadad" stroke-width="1.1" fill="none"/><text x="357.71" y="435.8" font-size="12.7" text-anchor="middle" font-family='"Liberation Sans", sans-serif'>-80</text><text x="397.67" y="435.8" font-size="12.7" text-anchor="middle" font-family='"Liberation Sans", sans-serif'>-60</text><text x="437.63" y="435.8" font-size="12.7" text-anchor="middle" font-family='"Liberation Sans", sans-serif'>-40</text><text x="477.59" y="435.8" font-size="12.7" text-anchor="middle" font-family='"Liberation Sans", sans-serif'>-20</text><text x="517.55" y="435.8" font-size="12.7" text-anchor="middle" font-family='"Liberation Sans", sans-serif'>0</text><text x="557.51" y="435.8" font-size="12.7" text-anchor="middle" font-family='"Liberation Sans", sans-serif'>20</text><text x="597.47" y="435.8" font-size="12.7" text-anchor="middle" font-family='"Liberation Sans", sans-serif'>40</text><text x="637.43" y="435.8" font-size="12.7" text-anchor="middle" font-family='"Liberation Sans", sans-serif'>60</text><text x="677.39" y="435.8" font-size="12.7" text-anchor="middle" font-family='"Liberation Sans", sans-serif'>80</text><text x="356.59999999999997" y="417.43" font-size="12.7" text-anchor="end" font-family='"Liberation Sans", sans-serif'>0</text><text x="356.59999999999997" y="386.24" font-size="12.7" text-anchor="end" font-family='"Liberation Sans", sans-serif'>25</text><text x="356.59999999999997" y="355.05" font-size="12.7" text-anchor="end" font-family='"Liberation Sans", sans-serif'>50</text><text x="356.59999999999997" y="323.86" font-size="12.7" text-anchor="end" font-family='"Liberation Sans", sans-serif'>75</text><path d="M172.55 425.3 V300.5 M517.55 425.3 V300.5" stroke="#000" stroke-width="1.2" stroke-dasharray="4 1.6" fill="none"/><circle cx="22.30" cy="404.60" r="2.9" fill="#000" clip-path="url(#cl2)"/><circle cx="39.28" cy="412.19" r="2.9" fill="#000" clip-path="url(#cl2)"/><circle cx="63.46" cy="407.64" r="2.9" fill="#000" clip-path="url(#cl2)"/><circle cx="83.84" cy="415.23" r="2.9" fill="#000" clip-path="url(#cl2)"/><circle cx="102.02" cy="397.18" r="2.9" fill="#000" clip-path="url(#cl2)"/><circle cx="124.20" cy="396.17" r="2.9" fill="#000" clip-path="url(#cl2)"/><circle cx="140.98" cy="400.05" r="2.9" fill="#000" clip-path="url(#cl2)"/><circle cx="161.56" cy="374.07" r="2.9" fill="#000" clip-path="url(#cl2)"/><circle cx="181.14" cy="351.29" r="2.9" fill="#000" clip-path="url(#cl2)"/><circle cx="202.32" cy="331.05" r="2.9" fill="#000" clip-path="url(#cl2)"/><circle cx="223.70" cy="321.60" r="2.9" fill="#000" clip-path="url(#cl2)"/><circle cx="238.88" cy="329.19" r="2.9" fill="#000" clip-path="url(#cl2)"/><circle cx="263.86" cy="309.45" r="2.9" fill="#000" clip-path="url(#cl2)"/><circle cx="284.84" cy="325.82" r="2.9" fill="#000" clip-path="url(#cl2)"/><circle cx="302.02" cy="305.24" r="2.9" fill="#000" clip-path="url(#cl2)"/><circle cx="321.80" cy="308.78" r="2.9" fill="#000" clip-path="url(#cl2)"/><circle cx="367.30" cy="419.39" r="2.9" fill="#000"/><circle cx="384.28" cy="419.39" r="2.9" fill="#000"/><circle cx="408.46" cy="419.39" r="2.9" fill="#000"/><circle cx="428.84" cy="419.39" r="2.9" fill="#000"/><circle cx="447.02" cy="419.39" r="2.9" fill="#000"/><circle cx="469.20" cy="419.39" r="2.9" fill="#000"/><circle cx="486.38" cy="419.39" r="2.9" fill="#000"/><circle cx="506.56" cy="419.39" r="2.9" fill="#000"/><circle cx="526.74" cy="419.39" r="2.9" fill="#000"/><circle cx="546.92" cy="419.39" r="2.9" fill="#000"/><circle cx="568.70" cy="419.39" r="2.9" fill="#000"/><circle cx="583.88" cy="419.39" r="2.9" fill="#000"/><circle cx="608.86" cy="419.39" r="2.9" fill="#000"/><circle cx="630.04" cy="419.39" r="2.9" fill="#000"/><circle cx="647.02" cy="419.39" r="2.9" fill="#000"/><circle cx="666.80" cy="419.39" r="2.9" fill="#000"/><polyline clip-path="url(#cl2)" points="12.71,414.55 13.71,414.45 14.71,414.35 15.71,414.25 16.71,414.15 17.71,414.05 18.70,413.95 19.70,413.85 20.70,413.74 21.70,413.64 22.70,413.54 23.70,413.44 24.70,413.33 25.70,413.23 26.70,413.13 27.70,413.02 28.69,412.92 29.69,412.81 30.69,412.71 31.69,412.60 32.69,412.50 33.69,412.39 34.69,412.28 35.69,412.18 36.69,412.07 37.69,411.96 38.68,411.85 39.68,411.74 40.68,411.63 41.68,411.52 42.68,411.41 43.68,411.30 44.68,411.19 45.68,411.08 46.68,410.97 47.68,410.85 48.67,410.74 49.67,410.63 50.67,410.51 51.67,410.40 52.67,410.28 53.67,410.17 54.67,410.05 55.67,409.93 56.67,409.81 57.67,409.69 58.66,409.57 59.66,409.45 60.66,409.33 61.66,409.21 62.66,409.09 63.66,408.96 64.66,408.84 65.66,408.72 66.66,408.59 67.66,408.46 68.65,408.34 69.65,408.21 70.65,408.08 71.65,407.95 72.65,407.81 73.65,407.68 74.65,407.55 75.65,407.41 76.65,407.28 77.65,407.14 78.64,407.00 79.64,406.86 80.64,406.72 81.64,406.58 82.64,406.44 83.64,406.29 84.64,406.15 85.64,406.00 86.64,405.85 87.64,405.70 88.63,405.54 89.63,405.39 90.63,405.23 91.63,405.08 92.63,404.92 93.63,404.75 94.63,404.59 95.63,404.43 96.63,404.26 97.63,404.09 98.62,403.91 99.62,403.74 100.62,403.56 101.62,403.38 102.62,403.20 103.62,403.01 104.62,402.83 105.62,402.63 106.62,402.44 107.62,402.24 108.61,402.04 109.61,401.84 110.61,401.63 111.61,401.42 112.61,401.20 113.61,400.98 114.61,400.75 115.61,400.52 116.61,400.29 117.61,400.05 118.60,399.81 119.60,399.56 120.60,399.30 121.60,399.04 122.60,398.77 123.60,398.50 124.60,398.22 125.60,397.93 126.60,397.63 127.60,397.33 128.59,397.01 129.59,396.69 130.59,396.36 131.59,396.02 132.59,395.67 133.59,395.30 134.59,394.93 135.59,394.54 136.59,394.14 137.59,393.73 138.58,393.30 139.58,392.86 140.58,392.40 141.58,391.92 142.58,391.42 143.58,390.91 144.58,390.37 145.58,389.81 146.58,389.23 147.58,388.63 148.57,388.00 149.57,387.34 150.57,386.65 151.57,385.94 152.57,385.19 153.57,384.40 154.57,383.59 155.57,382.73 156.57,381.84 157.56,380.91 158.56,379.94 159.56,378.92 160.56,377.87 161.56,376.77 162.56,375.63 163.56,374.45 164.56,373.22 165.56,371.96 166.56,370.67 167.56,369.34 168.55,367.98 169.55,366.60 170.55,365.20 171.55,363.79 172.55,362.37 173.55,360.95 174.55,359.54 175.55,358.14 176.55,356.76 177.55,355.41 178.54,354.08 179.54,352.78 180.54,351.52 181.54,350.30 182.54,349.12 183.54,347.98 184.54,346.88 185.54,345.82 186.54,344.81 187.54,343.84 188.53,342.90 189.53,342.01 190.53,341.16 191.53,340.34 192.53,339.56 193.53,338.81 194.53,338.09 195.53,337.40 196.53,336.75 197.53,336.12 198.52,335.51 199.52,334.93 200.52,334.37 201.52,333.84 202.52,333.32 203.52,332.83 204.52,332.35 205.52,331.89 206.52,331.44 207.52,331.02 208.51,330.60 209.51,330.20 210.51,329.82 211.51,329.44 212.51,329.08 213.51,328.73 214.51,328.39 215.51,328.05 216.51,327.73 217.50,327.42 218.50,327.11 219.50,326.82 220.50,326.53 221.50,326.25 222.50,325.97 223.50,325.70 224.50,325.44 225.50,325.19 226.50,324.94 227.50,324.69 228.49,324.45 229.49,324.22 230.49,323.99 231.49,323.77 232.49,323.55 233.49,323.33 234.49,323.12 235.49,322.91 236.49,322.70 237.49,322.50 238.48,322.30 239.48,322.11 240.48,321.92 241.48,321.73 242.48,321.54 243.48,321.36 244.48,321.18 245.48,321.01 246.48,320.83 247.48,320.66 248.47,320.49 249.47,320.32 250.47,320.15 251.47,319.99 252.47,319.83 253.47,319.67 254.47,319.51 255.47,319.35 256.47,319.20 257.47,319.05 258.46,318.90 259.46,318.75 260.46,318.60 261.46,318.45 262.46,318.31 263.46,318.16 264.46,318.02 265.46,317.88 266.46,317.74 267.46,317.60 268.45,317.47 269.45,317.33 270.45,317.20 271.45,317.06 272.45,316.93 273.45,316.80 274.45,316.67 275.45,316.54 276.45,316.41 277.44,316.28 278.44,316.16 279.44,316.03 280.44,315.90 281.44,315.78 282.44,315.66 283.44,315.53 284.44,315.41 285.44,315.29 286.44,315.17 287.44,315.05 288.43,314.93 289.43,314.81 290.43,314.70 291.43,314.58 292.43,314.46 293.43,314.35 294.43,314.23 295.43,314.12 296.43,314.00 297.43,313.89 298.42,313.78 299.42,313.66 300.42,313.55 301.42,313.44 302.42,313.33 303.42,313.22 304.42,313.11 305.42,313.00 306.42,312.89 307.42,312.78 308.41,312.68 309.41,312.57 310.41,312.46 311.41,312.35 312.41,312.25 313.41,312.14 314.41,312.04 315.41,311.93 316.41,311.83 317.40,311.72 318.40,311.62 319.40,311.51 320.40,311.41 321.40,311.31 322.40,311.21 323.40,311.10 324.40,311.00 325.40,310.90 326.40,310.80 327.39,310.70 328.39,310.60 329.39,310.50 330.39,310.39 331.39,310.29 332.39,310.19" fill="none" stroke="#000" stroke-width="1.6" stroke-linejoin="round"/><polyline clip-path="url(#cl2)" points="12.71,406.63 13.71,406.71 14.71,406.79 15.71,406.87 16.71,406.95 17.71,407.04 18.70,407.12 19.70,407.20 20.70,407.28 21.70,407.36 22.70,407.45 23.70,407.53 24.70,407.61 25.70,407.69 26.70,407.77 27.70,407.85 28.69,407.93 29.69,408.01 30.69,408.09 31.69,408.16 32.69,408.24 33.69,408.31 34.69,408.38 35.69,408.45 36.69,408.52 37.69,408.59 38.68,408.65 39.68,408.72 40.68,408.78 41.68,408.84 42.68,408.90 43.68,408.95 44.68,409.01 45.68,409.06 46.68,409.11 47.68,409.16 48.67,409.21 49.67,409.25 50.67,409.30 51.67,409.34 52.67,409.38 53.67,409.42 54.67,409.46 55.67,409.49 56.67,409.53 57.67,409.56 58.66,409.59 59.66,409.61 60.66,409.63 61.66,409.64 62.66,409.65 63.66,409.65 64.66,409.65 65.66,409.64 66.66,409.63 67.66,409.61 68.65,409.58 69.65,409.55 70.65,409.51 71.65,409.46 72.65,409.41 73.65,409.35 74.65,409.28 75.65,409.21 76.65,409.12 77.65,409.03 78.64,408.93 79.64,408.83 80.64,408.71 81.64,408.59 82.64,408.45 83.64,408.31 84.64,408.16 85.64,408.00 86.64,407.83 87.64,407.65 88.63,407.46 89.63,407.26 90.63,407.05 91.63,406.82 92.63,406.59 93.63,406.35 94.63,406.10 95.63,405.84 96.63,405.57 97.63,405.31 98.62,405.04 99.62,404.77 100.62,404.51 101.62,404.26 102.62,404.01 103.62,403.77 104.62,403.54 105.62,403.30 106.62,403.07 107.62,402.82 108.61,402.56 109.61,402.29 110.61,401.99 111.61,401.67 112.61,401.32 113.61,400.93 114.61,400.52 115.61,400.07 116.61,399.61 117.61,399.14 118.60,398.65 119.60,398.16 120.60,397.67 121.60,397.18 122.60,396.71 123.60,396.25 124.60,395.80 125.60,395.36 126.60,394.92 127.60,394.49 128.59,394.06 129.59,393.63 130.59,393.20 131.59,392.75 132.59,392.30 133.59,391.84 134.59,391.35 135.59,390.85 136.59,390.33 137.59,389.79 138.58,389.22 139.58,388.64 140.58,388.04 141.58,387.41 142.58,386.77 143.58,386.12 144.58,385.44 145.58,384.75 146.58,384.04 147.58,383.32 148.57,382.58 149.57,381.84 150.57,381.08 151.57,380.31 152.57,379.54 153.57,378.76 154.57,377.97 155.57,377.19 156.57,376.40 157.56,375.60 158.56,374.81 159.56,374.02 160.56,373.23 161.56,372.43 162.56,371.64 163.56,370.85 164.56,370.04 165.56,369.24 166.56,368.42 167.56,367.58 168.55,366.74 169.55,365.87 170.55,364.99 171.55,364.09 172.55,363.16 173.55,362.20 174.55,361.22 175.55,360.20 176.55,359.15 177.55,358.07 178.54,356.94 179.54,355.78 180.54,354.57 181.54,353.32 182.54,352.06 183.54,350.82 184.54,349.68 185.54,348.66 186.54,347.78 187.54,347.01 188.53,346.29 189.53,345.57 190.53,344.83 191.53,344.00 192.53,343.09 193.53,342.14 194.53,341.18 195.53,340.23 196.53,339.34 197.53,338.53 198.52,337.84 199.52,337.27 200.52,336.76 201.52,336.23 202.52,335.66 203.52,335.05 204.52,334.42 205.52,333.77 206.52,333.11 207.52,332.45 208.51,331.80 209.51,331.17 210.51,330.57 211.51,330.01 212.51,329.49 213.51,329.00 214.51,328.55 215.51,328.14 216.51,327.76 217.50,327.40 218.50,327.07 219.50,326.77 220.50,326.48 221.50,326.21 222.50,325.93 223.50,325.61 224.50,325.27 225.50,324.90 226.50,324.53 227.50,324.16 228.49,323.80 229.49,323.46 230.49,323.15 231.49,322.88 232.49,322.65 233.49,322.44 234.49,322.27 235.49,322.10 236.49,321.94 237.49,321.78 238.48,321.61 239.48,321.44 240.48,321.27 241.48,321.10 242.48,320.93 243.48,320.76 244.48,320.58 245.48,320.40 246.48,320.23 247.48,320.05 248.47,319.87 249.47,319.70 250.47,319.52 251.47,319.36 252.47,319.19 253.47,319.03 254.47,318.88 255.47,318.74 256.47,318.60 257.47,318.47 258.46,318.35 259.46,318.22 260.46,318.10 261.46,317.97 262.46,317.83 263.46,317.69 264.46,317.53 265.46,317.35 266.46,317.16 267.46,316.96 268.45,316.75 269.45,316.53 270.45,316.30 271.45,316.08 272.45,315.86 273.45,315.64 274.45,315.44 275.45,315.24 276.45,315.06 277.44,314.89 278.44,314.73 279.44,314.57 280.44,314.42 281.44,314.27 282.44,314.13 283.44,313.98 284.44,313.83 285.44,313.68 286.44,313.53 287.44,313.37 288.43,313.21 289.43,313.04 290.43,312.88 291.43,312.72 292.43,312.55 293.43,312.39 294.43,312.22 295.43,312.06 296.43,311.90 297.43,311.74 298.42,311.58 299.42,311.42 300.42,311.27 301.42,311.11 302.42,310.96 303.42,310.80 304.42,310.65 305.42,310.50 306.42,310.34 307.42,310.19 308.41,310.04 309.41,309.88 310.41,309.73 311.41,309.58 312.41,309.42 313.41,309.26 314.41,309.10 315.41,308.94 316.41,308.78 317.40,308.61 318.40,308.44 319.40,308.27 320.40,308.09 321.40,307.91 322.40,307.73 323.40,307.54 324.40,307.35 325.40,307.15 326.40,306.95 327.39,306.75 328.39,306.54 329.39,306.34 330.39,306.13 331.39,305.92 332.39,305.71" fill="none" stroke="#1480f5" stroke-width="1.6" stroke-linejoin="round"/><polyline clip-path="url(#cl2)" points="12.71,406.63 13.71,406.71 14.71,406.79 15.71,406.87 16.71,406.95 17.71,407.04 18.70,407.12 19.70,407.20 20.70,407.28 21.70,407.36 22.70,407.45 23.70,407.53 24.70,407.61 25.70,407.69 26.70,407.77 27.70,407.85 28.69,407.93 29.69,408.01 30.69,408.08 31.69,408.16 32.69,408.24 33.69,408.31 34.69,408.38 35.69,408.45 36.69,408.52 37.69,408.59 38.68,408.66 39.68,408.72 40.68,408.78 41.68,408.84 42.68,408.90 43.68,408.95 44.68,409.00 45.68,409.06 46.68,409.11 47.68,409.15 48.67,409.20 49.67,409.25 50.67,409.29 51.67,409.34 52.67,409.38 53.67,409.42 54.67,409.46 55.67,409.49 56.67,409.53 57.67,409.56 58.66,409.59 59.66,409.61 60.66,409.63 61.66,409.64 62.66,409.65 63.66,409.66 64.66,409.66 65.66,409.65 66.66,409.63 67.66,409.61 68.65,409.59 69.65,409.55 70.65,409.51 71.65,409.46 72.65,409.41 73.65,409.35 74.65,409.28 75.65,409.20 76.65,409.12 77.65,409.03 78.64,408.93 79.64,408.82 80.64,408.71 81.64,408.59 82.64,408.45 83.64,408.31 84.64,408.16 85.64,408.00 86.64,407.83 87.64,407.66 88.63,407.47 89.63,407.27 90.63,407.06 91.63,406.83 92.63,406.60 93.63,406.36 94.63,406.11 95.63,405.85 96.63,405.59 97.63,405.33 98.62,405.06 99.62,404.79 100.62,404.51 101.62,404.24 102.62,403.98 103.62,403.71 104.62,403.45 105.62,403.19 106.62,402.93 107.62,402.67 108.61,402.41 109.61,402.15 110.61,401.89 111.61,401.63 112.61,401.36 113.61,401.10 114.61,400.83 115.61,400.56 116.61,400.28 117.61,400.00 118.60,399.71 119.60,399.42 120.60,399.12 121.60,398.82 122.60,398.50 123.60,398.18 124.60,397.85 125.60,397.50 126.60,397.14 127.60,396.77 128.59,396.39 129.59,395.99 130.59,395.57 131.59,395.14 132.59,394.69 133.59,394.23 134.59,393.75 135.59,393.25 136.59,392.73 137.59,392.20 138.58,391.65 139.58,391.08 140.58,390.50 141.58,389.89 142.58,389.27 143.58,388.62 144.58,387.96 145.58,387.28 146.58,386.59 147.58,385.88 148.57,385.15 149.57,384.41 150.57,383.65 151.57,382.89 152.57,382.11 153.57,381.31 154.57,380.50 155.57,379.68 156.57,378.84 157.56,377.98 158.56,377.10 159.56,376.20 160.56,375.28 161.56,374.33 162.56,373.37 163.56,372.38 164.56,371.38 165.56,370.37 166.56,369.33 167.56,368.27 168.55,367.18 169.55,366.05 170.55,364.88 171.55,363.67 172.55,362.44 173.55,361.20 174.55,359.96 175.55,358.71 176.55,357.47 177.55,356.24 178.54,355.02 179.54,353.81 180.54,352.62 181.54,351.45 182.54,350.30 183.54,349.16 184.54,348.05 185.54,346.97 186.54,345.92 187.54,344.89 188.53,343.90 189.53,342.94 190.53,342.02 191.53,341.13 192.53,340.29 193.53,339.48 194.53,338.71 195.53,337.98 196.53,337.27 197.53,336.59 198.52,335.94 199.52,335.30 200.52,334.68 201.52,334.08 202.52,333.50 203.52,332.93 204.52,332.38 205.52,331.84 206.52,331.31 207.52,330.80 208.51,330.30 209.51,329.82 210.51,329.36 211.51,328.92 212.51,328.50 213.51,328.10 214.51,327.72 215.51,327.35 216.51,327.00 217.50,326.67 218.50,326.34 219.50,326.03 220.50,325.73 221.50,325.44 222.50,325.16 223.50,324.88 224.50,324.61 225.50,324.35 226.50,324.09 227.50,323.85 228.49,323.61 229.49,323.37 230.49,323.15 231.49,322.94 232.49,322.73 233.49,322.54 234.49,322.34 235.49,322.16 236.49,321.98 237.49,321.80 238.48,321.63 239.48,321.46 240.48,321.29 241.48,321.12 242.48,320.94 243.48,320.77 244.48,320.59 245.48,320.41 246.48,320.23 247.48,320.04 248.47,319.86 249.47,319.67 250.47,319.50 251.47,319.32 252.47,319.16 253.47,319.00 254.47,318.85 255.47,318.72 256.47,318.60 257.47,318.49 258.46,318.40 259.46,318.30 260.46,318.21 261.46,318.09 262.46,317.95 263.46,317.78 264.46,317.59 265.46,317.37 266.46,317.14 267.46,316.91 268.45,316.67 269.45,316.43 270.45,316.20 271.45,315.98 272.45,315.78 273.45,315.58 274.45,315.40 275.45,315.23 276.45,315.06 277.44,314.90 278.44,314.75 279.44,314.60 280.44,314.45 281.44,314.30 282.44,314.15 283.44,314.00 284.44,313.85 285.44,313.69 286.44,313.53 287.44,313.37 288.43,313.21 289.43,313.04 290.43,312.88 291.43,312.71 292.43,312.55 293.43,312.38 294.43,312.22 295.43,312.06 296.43,311.89 297.43,311.73 298.42,311.57 299.42,311.42 300.42,311.26 301.42,311.11 302.42,310.95 303.42,310.80 304.42,310.65 305.42,310.49 306.42,310.34 307.42,310.19 308.41,310.04 309.41,309.88 310.41,309.73 311.41,309.58 312.41,309.42 313.41,309.26 314.41,309.10 315.41,308.94 316.41,308.78 317.40,308.61 318.40,308.44 319.40,308.27 320.40,308.09 321.40,307.91 322.40,307.73 323.40,307.54 324.40,307.35 325.40,307.15 326.40,306.95 327.39,306.75 328.39,306.55 329.39,306.34 330.39,306.13 331.39,305.92 332.39,305.71" fill="none" stroke="#ff0000" stroke-width="2.3" stroke-linejoin="round"/><polyline clip-path="url(#cr2)" points="357.71,405.03 358.71,405.01 359.71,404.99 360.71,404.97 361.71,404.95 362.70,404.93 363.70,404.91 364.70,404.88 365.70,404.86 366.70,404.84 367.70,404.82 368.70,404.79 369.70,404.77 370.70,404.74 371.70,404.72 372.69,404.69 373.69,404.66 374.69,404.64 375.69,404.61 376.69,404.58 377.69,404.55 378.69,404.52 379.69,404.49 380.69,404.46 381.69,404.43 382.68,404.40 383.68,404.36 384.68,404.33 385.68,404.30 386.68,404.26 387.68,404.23 388.68,404.19 389.68,404.15 390.68,404.11 391.68,404.07 392.67,404.03 393.67,403.99 394.67,403.95 395.67,403.91 396.67,403.86 397.67,403.82 398.67,403.77 399.67,403.73 400.67,403.68 401.67,403.63 402.66,403.58 403.66,403.52 404.66,403.47 405.66,403.42 406.66,403.36 407.66,403.30 408.66,403.24 409.66,403.18 410.66,403.12 411.66,403.06 412.65,402.99 413.65,402.92 414.65,402.85 415.65,402.78 416.65,402.71 417.65,402.63 418.65,402.55 419.65,402.47 420.65,402.39 421.65,402.30 422.64,402.22 423.64,402.13 424.64,402.03 425.64,401.94 426.64,401.84 427.64,401.74 428.64,401.63 429.64,401.52 430.64,401.41 431.64,401.30 432.63,401.18 433.63,401.05 434.63,400.92 435.63,400.79 436.63,400.66 437.63,400.52 438.63,400.37 439.63,400.22 440.63,400.06 441.63,399.90 442.62,399.73 443.62,399.56 444.62,399.37 445.62,399.19 446.62,398.99 447.62,398.79 448.62,398.58 449.62,398.36 450.62,398.13 451.62,397.89 452.61,397.65 453.61,397.39 454.61,397.12 455.61,396.85 456.61,396.55 457.61,396.25 458.61,395.93 459.61,395.60 460.61,395.26 461.61,394.90 462.60,394.52 463.60,394.12 464.60,393.71 465.60,393.27 466.60,392.82 467.60,392.34 468.60,391.84 469.60,391.31 470.60,390.75 471.60,390.17 472.59,389.56 473.59,388.91 474.59,388.23 475.59,387.52 476.59,386.76 477.59,385.97 478.59,385.12 479.59,384.24 480.59,383.30 481.59,382.30 482.58,381.25 483.58,380.14 484.58,378.96 485.58,377.72 486.58,376.40 487.58,375.00 488.58,373.52 489.58,371.95 490.58,370.29 491.58,368.53 492.57,366.67 493.57,364.71 494.57,362.63 495.57,360.44 496.57,358.13 497.57,355.71 498.57,353.16 499.57,350.50 500.57,347.73 501.57,344.85 502.56,341.88 503.56,338.83 504.56,335.72 505.56,332.58 506.56,329.43 507.56,326.31 508.56,323.26 509.56,320.33 510.56,317.57 511.56,315.03 512.55,312.76 513.55,310.82 514.55,309.26 515.55,308.11 516.55,307.41 517.55,307.17 518.55,307.41 519.55,308.11 520.55,309.26 521.55,310.82 522.54,312.76 523.54,315.03 524.54,317.57 525.54,320.33 526.54,323.26 527.54,326.31 528.54,329.43 529.54,332.58 530.54,335.72 531.54,338.83 532.53,341.88 533.53,344.85 534.53,347.73 535.53,350.50 536.53,353.16 537.53,355.71 538.53,358.13 539.53,360.44 540.53,362.63 541.53,364.71 542.52,366.67 543.52,368.53 544.52,370.29 545.52,371.95 546.52,373.52 547.52,375.00 548.52,376.40 549.52,377.72 550.52,378.96 551.52,380.14 552.51,381.25 553.51,382.30 554.51,383.30 555.51,384.24 556.51,385.12 557.51,385.97 558.51,386.76 559.51,387.52 560.51,388.23 561.51,388.91 562.50,389.56 563.50,390.17 564.50,390.75 565.50,391.31 566.50,391.84 567.50,392.34 568.50,392.82 569.50,393.27 570.50,393.71 571.50,394.12 572.50,394.52 573.49,394.90 574.49,395.26 575.49,395.60 576.49,395.93 577.49,396.25 578.49,396.55 579.49,396.85 580.49,397.12 581.49,397.39 582.48,397.65 583.48,397.89 584.48,398.13 585.48,398.36 586.48,398.58 587.48,398.79 588.48,398.99 589.48,399.19 590.48,399.37 591.48,399.56 592.47,399.73 593.47,399.90 594.47,400.06 595.47,400.22 596.47,400.37 597.47,400.52 598.47,400.66 599.47,400.79 600.47,400.92 601.47,401.05 602.46,401.18 603.46,401.30 604.46,401.41 605.46,401.52 606.46,401.63 607.46,401.74 608.46,401.84 609.46,401.94 610.46,402.03 611.46,402.13 612.45,402.22 613.45,402.30 614.45,402.39 615.45,402.47 616.45,402.55 617.45,402.63 618.45,402.71 619.45,402.78 620.45,402.85 621.45,402.92 622.44,402.99 623.44,403.06 624.44,403.12 625.44,403.18 626.44,403.24 627.44,403.30 628.44,403.36 629.44,403.42 630.44,403.47 631.44,403.52 632.43,403.58 633.43,403.63 634.43,403.68 635.43,403.73 636.43,403.77 637.43,403.82 638.43,403.86 639.43,403.91 640.43,403.95 641.43,403.99 642.42,404.03 643.42,404.07 644.42,404.11 645.42,404.15 646.42,404.19 647.42,404.23 648.42,404.26 649.42,404.30 650.42,404.33 651.42,404.36 652.41,404.40 653.41,404.43 654.41,404.46 655.41,404.49 656.41,404.52 657.41,404.55 658.41,404.58 659.41,404.61 660.41,404.64 661.41,404.66 662.40,404.69 663.40,404.72 664.40,404.74 665.40,404.77 666.40,404.79 667.40,404.82 668.40,404.84 669.40,404.86 670.40,404.88 671.40,404.91 672.39,404.93 673.39,404.95 674.39,404.97 675.39,404.99 676.39,405.01 677.39,405.03" fill="none" stroke="#000" stroke-width="1.6" stroke-linejoin="round"/><polyline clip-path="url(#cr2)" points="357.71,420.84 358.71,420.82 359.71,420.81 360.71,420.79 361.71,420.77 362.70,420.76 363.70,420.74 364.70,420.72 365.70,420.70 366.70,420.67 367.70,420.65 368.70,420.62 369.70,420.59 370.70,420.56 371.70,420.52 372.69,420.48 373.69,420.43 374.69,420.37 375.69,420.31 376.69,420.23 377.69,420.13 378.69,420.03 379.69,419.90 380.69,419.76 381.69,419.60 382.68,419.42 383.68,419.21 384.68,418.98 385.68,418.73 386.68,418.46 387.68,418.17 388.68,417.86 389.68,417.54 390.68,417.21 391.68,416.87 392.67,416.52 393.67,416.17 394.67,415.83 395.67,415.51 396.67,415.19 397.67,414.90 398.67,414.62 399.67,414.35 400.67,414.09 401.67,413.84 402.66,413.60 403.66,413.35 404.66,413.09 405.66,412.83 406.66,412.56 407.66,412.28 408.66,411.98 409.66,411.67 410.66,411.33 411.66,410.98 412.65,410.61 413.65,410.21 414.65,409.79 415.65,409.34 416.65,408.86 417.65,408.36 418.65,407.83 419.65,407.28 420.65,406.71 421.65,406.12 422.64,405.51 423.64,404.89 424.64,404.26 425.64,403.63 426.64,402.99 427.64,402.34 428.64,401.70 429.64,401.07 430.64,400.44 431.64,399.85 432.63,399.28 433.63,398.75 434.63,398.27 435.63,397.81 436.63,397.35 437.63,396.88 438.63,396.37 439.63,395.81 440.63,395.31 441.63,394.92 442.62,394.61 443.62,394.38 444.62,394.19 445.62,394.01 446.62,393.84 447.62,393.64 448.62,393.40 449.62,393.13 450.62,392.82 451.62,392.48 452.61,392.11 453.61,391.73 454.61,391.33 455.61,390.91 456.61,390.48 457.61,390.05 458.61,389.60 459.61,389.12 460.61,388.63 461.61,388.11 462.60,387.55 463.60,386.96 464.60,386.32 465.60,385.65 466.60,384.94 467.60,384.20 468.60,383.42 469.60,382.62 470.60,381.78 471.60,380.93 472.59,380.05 473.59,379.14 474.59,378.21 475.59,377.24 476.59,376.24 477.59,375.19 478.59,374.10 479.59,372.97 480.59,371.78 481.59,370.55 482.58,369.28 483.58,367.97 484.58,366.64 485.58,365.28 486.58,363.91 487.58,362.54 488.58,361.19 489.58,359.86 490.58,358.58 491.58,357.35 492.57,356.18 493.57,355.06 494.57,353.99 495.57,352.98 496.57,352.02 497.57,351.12 498.57,350.30 499.57,349.55 500.57,348.89 501.57,348.32 502.56,347.79 503.56,347.26 504.56,346.75 505.56,346.30 506.56,345.94 507.56,345.66 508.56,345.42 509.56,345.17 510.56,344.91 511.56,344.69 512.55,344.52 513.55,344.41 514.55,344.35 515.55,344.33 516.55,344.35 517.55,344.40 518.55,344.48 519.55,344.60 520.55,344.75 521.55,344.95 522.54,345.20 523.54,345.50 524.54,345.85 525.54,346.21 526.54,346.57 527.54,346.95 528.54,347.37 529.54,347.82 530.54,348.33 531.54,348.94 532.53,349.67 533.53,350.35 534.53,350.95 535.53,351.53 536.53,352.16 537.53,352.89 538.53,353.79 539.53,354.82 540.53,355.87 541.53,356.82 542.52,357.70 543.52,358.56 544.52,359.47 545.52,360.43 546.52,361.43 547.52,362.46 548.52,363.51 549.52,364.55 550.52,365.58 551.52,366.60 552.51,367.62 553.51,368.64 554.51,369.65 555.51,370.66 556.51,371.68 557.51,372.69 558.51,373.71 559.51,374.71 560.51,375.72 561.51,376.71 562.50,377.68 563.50,378.64 564.50,379.58 565.50,380.50 566.50,381.40 567.50,382.26 568.50,383.10 569.50,383.92 570.50,384.70 571.50,385.46 572.50,386.18 573.49,386.88 574.49,387.54 575.49,388.17 576.49,388.77 577.49,389.34 578.49,389.89 579.49,390.40 580.49,390.89 581.49,391.35 582.48,391.79 583.48,392.22 584.48,392.64 585.48,393.06 586.48,393.49 587.48,393.93 588.48,394.39 589.48,394.86 590.48,395.27 591.48,395.59 592.47,395.86 593.47,396.11 594.47,396.38 595.47,396.71 596.47,397.12 597.47,397.60 598.47,397.97 599.47,398.20 600.47,398.36 601.47,398.51 602.46,398.74 603.46,399.11 604.46,399.69 605.46,400.44 606.46,401.15 607.46,401.73 608.46,402.20 609.46,402.58 610.46,402.89 611.46,403.14 612.45,403.35 613.45,403.54 614.45,403.70 615.45,403.83 616.45,403.92 617.45,403.96 618.45,403.95 619.45,403.88 620.45,403.75 621.45,403.57 622.44,403.35 623.44,403.11 624.44,402.86 625.44,402.61 626.44,402.35 627.44,402.10 628.44,401.85 629.44,401.62 630.44,401.39 631.44,401.19 632.43,401.01 633.43,400.84 634.43,400.71 635.43,400.61 636.43,400.54 637.43,400.49 638.43,400.47 639.43,400.46 640.43,400.47 641.43,400.48 642.42,400.50 643.42,400.53 644.42,400.55 645.42,400.57 646.42,400.59 647.42,400.61 648.42,400.63 649.42,400.65 650.42,400.67 651.42,400.69 652.41,400.71 653.41,400.73 654.41,400.75 655.41,400.77 656.41,400.80 657.41,400.82 658.41,400.84 659.41,400.87 660.41,400.89 661.41,400.91 662.40,400.94 663.40,400.96 664.40,400.98 665.40,401.00 666.40,401.01 667.40,401.03 668.40,401.04 669.40,401.05 670.40,401.05 671.40,401.06 672.39,401.06 673.39,401.06 674.39,401.06 675.39,401.06 676.39,401.05 677.39,401.05" fill="none" stroke="#1480f5" stroke-width="1.6" stroke-linejoin="round"/><polyline clip-path="url(#cr2)" points="357.71,419.51 358.71,419.50 359.71,419.48 360.71,419.47 361.71,419.46 362.70,419.45 363.70,419.45 364.70,419.45 365.70,419.45 366.70,419.46 367.70,419.48 368.70,419.50 369.70,419.52 370.70,419.56 371.70,419.60 372.69,419.64 373.69,419.67 374.69,419.70 375.69,419.72 376.69,419.73 377.69,419.72 378.69,419.69 379.69,419.63 380.69,419.54 381.69,419.41 382.68,419.25 383.68,419.05 384.68,418.81 385.68,418.53 386.68,418.23 387.68,417.92 388.68,417.60 389.68,417.29 390.68,417.00 391.68,416.72 392.67,416.46 393.67,416.22 394.67,415.99 395.67,415.77 396.67,415.56 397.67,415.36 398.67,415.16 399.67,414.97 400.67,414.77 401.67,414.58 402.66,414.37 403.66,414.16 404.66,413.93 405.66,413.69 406.66,413.44 407.66,413.17 408.66,412.89 409.66,412.60 410.66,412.29 411.66,411.95 412.65,411.59 413.65,411.20 414.65,410.77 415.65,410.29 416.65,409.76 417.65,409.19 418.65,408.56 419.65,407.88 420.65,407.15 421.65,406.38 422.64,405.58 423.64,404.73 424.64,403.85 425.64,402.96 426.64,402.06 427.64,401.17 428.64,400.30 429.64,399.46 430.64,398.67 431.64,397.95 432.63,397.31 433.63,396.76 434.63,396.33 435.63,395.99 436.63,395.74 437.63,395.56 438.63,395.44 439.63,395.36 440.63,395.30 441.63,395.23 442.62,395.17 443.62,395.11 444.62,395.04 445.62,394.98 446.62,394.92 447.62,394.85 448.62,394.80 449.62,394.74 450.62,394.68 451.62,394.62 452.61,394.57 453.61,394.51 454.61,394.45 455.61,394.40 456.61,394.34 457.61,394.28 458.61,394.21 459.61,394.12 460.61,394.01 461.61,393.87 462.60,393.70 463.60,393.49 464.60,393.23 465.60,392.93 466.60,392.57 467.60,392.17 468.60,391.71 469.60,391.20 470.60,390.63 471.60,389.96 472.59,389.18 473.59,388.27 474.59,387.20 475.59,385.97 476.59,384.57 477.59,383.04 478.59,381.37 479.59,379.58 480.59,377.69 481.59,375.71 482.58,373.66 483.58,371.55 484.58,369.40 485.58,367.24 486.58,365.09 487.58,363.00 488.58,361.01 489.58,359.16 490.58,357.41 491.58,355.66 492.57,353.90 493.57,352.11 494.57,350.27 495.57,348.48 496.57,346.93 497.57,345.59 498.57,344.43 499.57,343.38 500.57,342.42 501.57,341.60 502.56,340.93 503.56,340.41 504.56,340.02 505.56,339.74 506.56,339.49 507.56,339.24 508.56,338.98 509.56,338.73 510.56,338.51 511.56,338.32 512.55,338.18 513.55,338.08 514.55,338.02 515.55,337.98 516.55,337.97 517.55,337.96 518.55,337.96 519.55,337.98 520.55,338.02 521.55,338.10 522.54,338.22 523.54,338.41 524.54,338.66 525.54,338.98 526.54,339.33 527.54,339.65 528.54,339.88 529.54,340.09 530.54,340.36 531.54,340.77 532.53,341.35 533.53,342.03 534.53,342.80 535.53,343.71 536.53,344.80 537.53,346.12 538.53,347.46 539.53,348.69 540.53,349.91 541.53,351.24 542.52,352.76 543.52,354.33 544.52,355.80 545.52,357.27 546.52,358.91 547.52,360.83 548.52,362.89 549.52,364.93 550.52,366.89 551.52,368.78 552.51,370.58 553.51,372.30 554.51,373.94 555.51,375.51 556.51,377.01 557.51,378.45 558.51,379.85 559.51,381.21 560.51,382.55 561.51,383.85 562.50,385.11 563.50,386.34 564.50,387.52 565.50,388.66 566.50,389.74 567.50,390.76 568.50,391.72 569.50,392.61 570.50,393.41 571.50,394.13 572.50,394.77 573.49,395.33 574.49,395.81 575.49,396.20 576.49,396.51 577.49,396.75 578.49,396.95 579.49,397.09 580.49,397.21 581.49,397.31 582.48,397.41 583.48,397.51 584.48,397.62 585.48,397.73 586.48,397.85 587.48,397.96 588.48,398.07 589.48,398.16 590.48,398.25 591.48,398.34 592.47,398.47 593.47,398.62 594.47,398.77 595.47,398.91 596.47,399.03 597.47,399.12 598.47,399.15 599.47,399.17 600.47,399.23 601.47,399.40 602.46,399.73 603.46,400.18 604.46,400.69 605.46,401.22 606.46,401.71 607.46,402.13 608.46,402.50 609.46,402.82 610.46,403.11 611.46,403.36 612.45,403.59 613.45,403.80 614.45,403.98 615.45,404.14 616.45,404.25 617.45,404.32 618.45,404.34 619.45,404.29 620.45,404.19 621.45,404.02 622.44,403.80 623.44,403.52 624.44,403.19 625.44,402.81 626.44,402.40 627.44,401.98 628.44,401.56 629.44,401.16 630.44,400.81 631.44,400.49 632.43,400.22 633.43,399.99 634.43,399.80 635.43,399.66 636.43,399.55 637.43,399.48 638.43,399.43 639.43,399.41 640.43,399.41 641.43,399.42 642.42,399.44 643.42,399.46 644.42,399.49 645.42,399.51 646.42,399.53 647.42,399.55 648.42,399.57 649.42,399.60 650.42,399.62 651.42,399.64 652.41,399.66 653.41,399.68 654.41,399.70 655.41,399.71 656.41,399.73 657.41,399.75 658.41,399.76 659.41,399.78 660.41,399.79 661.41,399.80 662.40,399.81 663.40,399.82 664.40,399.83 665.40,399.84 666.40,399.85 667.40,399.85 668.40,399.86 669.40,399.86 670.40,399.87 671.40,399.87 672.39,399.87 673.39,399.87 674.39,399.87 675.39,399.87 676.39,399.86 677.39,399.86" fill="none" stroke="#ff0000" stroke-width="2.3" stroke-linejoin="round"/><rect x="12.7" y="300.5" width="319.7" height="124.8" fill="none" stroke="#adadad" stroke-width="1.1"/><rect x="357.7" y="300.5" width="319.7" height="124.8" fill="none" stroke="#adadad" stroke-width="1.1"/><text x="22.26" y="322.60" font-size="19.3" font-family='"Liberation Sans", sans-serif' xml:space="preserve">σ </text><path transform="translate(39.53 322.60) scale(0.009424 -0.009424)" d="M140 887H1090V1035H140ZM140 437H1090V585H140Z"/><text x="50.80" y="322.60" font-size="19.3" font-family='"Liberation Sans", sans-serif' xml:space="preserve"> 0.4 mm/yr</text><path d="M540.4 33.25 H566" stroke="#ff0000" stroke-width="2.2"/><text x="574.3" y="37.4" font-size="11.75" font-family='"Liberation Sans", sans-serif'>Proposed method</text><path d="M540.4 49.65 H566" stroke="#1480f5" stroke-width="1.6"/><text x="574.3" y="53.8" font-size="11.75" font-family='"Liberation Sans", sans-serif'>L2 regularization</text><path d="M540.4 66.05 H566" stroke="#000" stroke-width="1.6"/><text x="574.3" y="70.2" font-size="11.75" font-family='"Liberation Sans", sans-serif'>True value</text><text x="172.5" y="450.9" font-size="15.9" text-anchor="middle" font-family='"Liberation Sans", sans-serif'>x [km]</text><text x="517.5" y="450.9" font-size="15.9" text-anchor="middle" font-family='"Liberation Sans", sans-serif'>x [km]</text></svg></body></html>
